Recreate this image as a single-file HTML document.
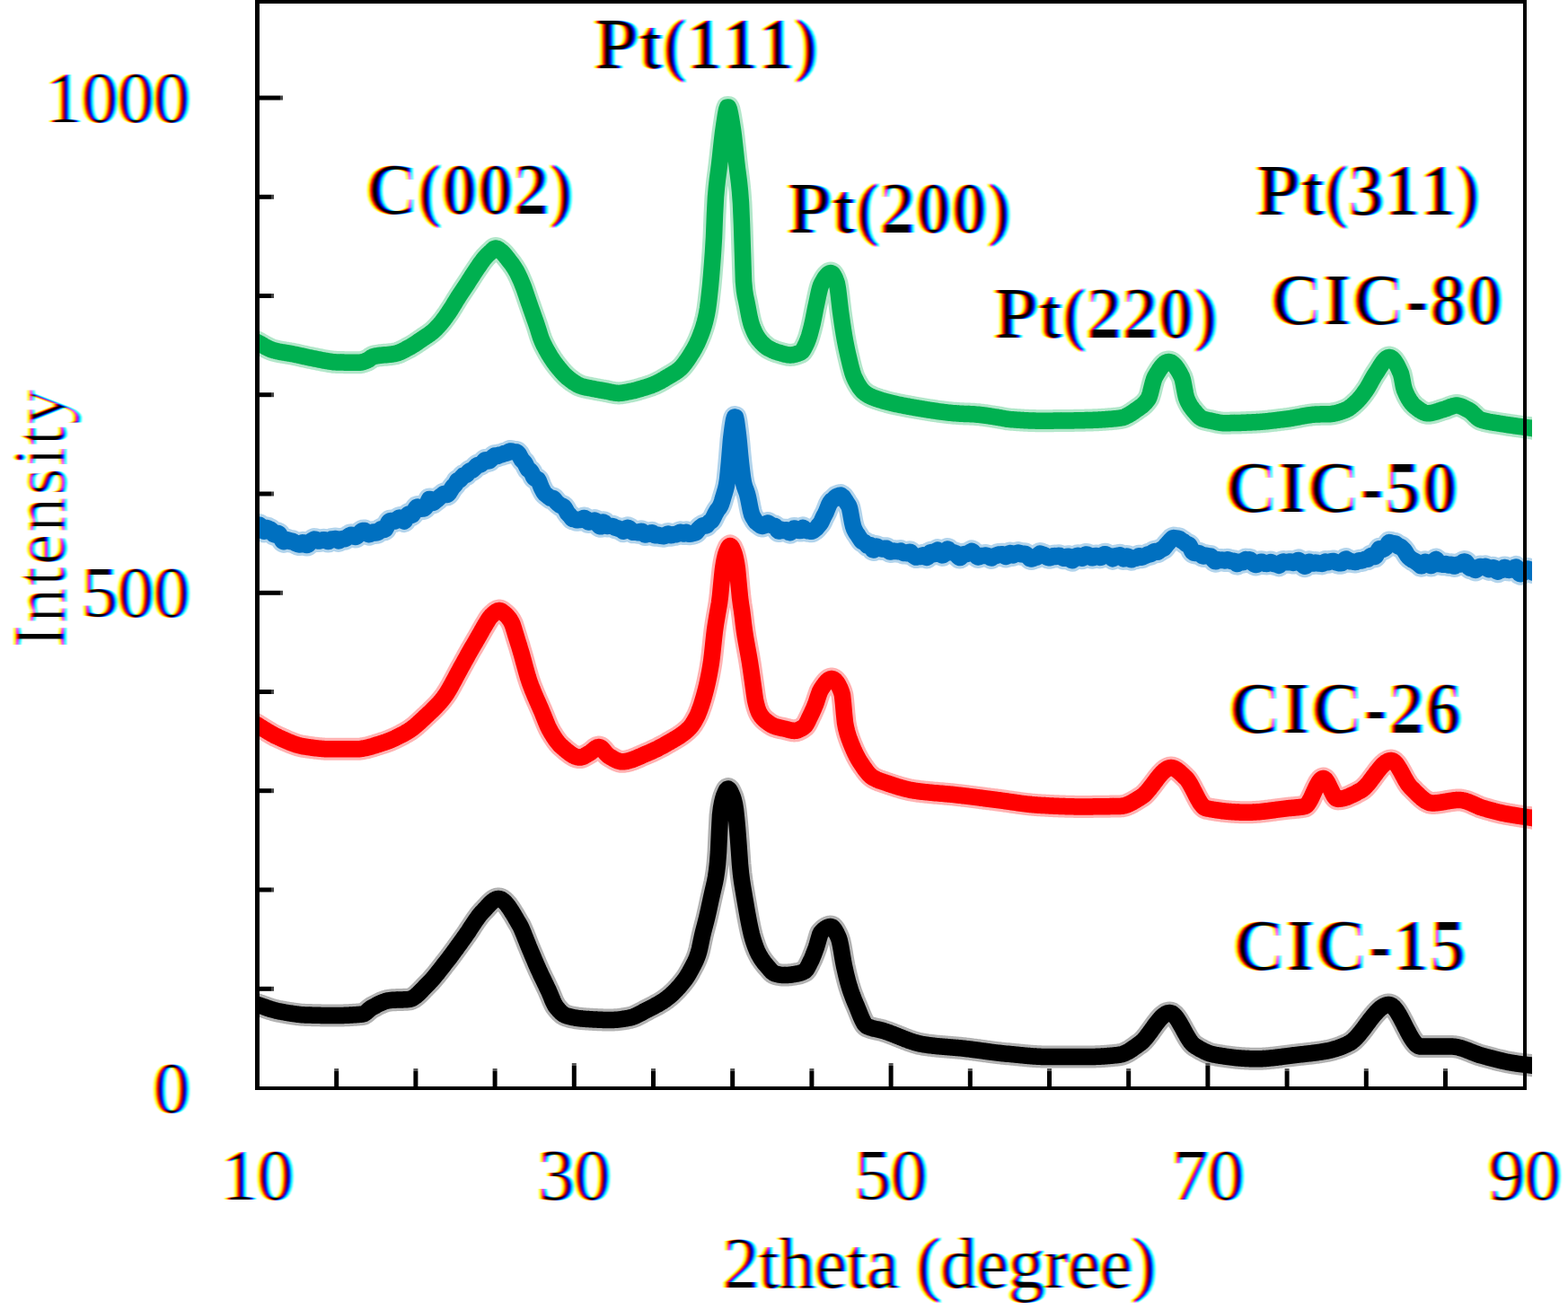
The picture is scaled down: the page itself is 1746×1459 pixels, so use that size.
<!DOCTYPE html>
<html><head><meta charset="utf-8"><title>XRD</title>
<style>
html,body{margin:0;padding:0;background:#fff;}
svg{display:block;}
text{mix-blend-mode:multiply;font-kerning:none;font-family:"Liberation Serif","Times New Roman",serif;font-size:80px;fill:#000;}
.r{font-weight:normal;filter:url(#ctR);}
.b{font-weight:bold;filter:url(#ctB);}
.ctg{filter:url(#ctI);mix-blend-mode:multiply;}
text.r.nf{filter:none;mix-blend-mode:normal;}
</style></head>
<body>
<svg width="1746" height="1459" viewBox="0 0 1746 1459">
<defs>
<path id="c0" d="M279.0 378.0L280.0 378.4L281.0 378.8L282.0 379.2L283.0 379.6L284.0 380.0L285.0 380.5L286.0 380.9L287.0 381.4L288.0 382.0L289.0 382.5L290.0 383.1L291.0 383.6L292.0 384.2L293.0 384.8L294.0 385.4L295.0 385.9L296.0 386.5L297.0 387.0L298.0 387.5L299.0 388.0L300.0 388.5L301.0 388.9L302.0 389.3L303.0 389.7L304.0 390.0L305.0 390.3L306.0 390.5L307.0 390.8L308.0 391.0L309.0 391.3L310.0 391.5L311.0 391.7L312.0 391.9L313.0 392.1L314.0 392.2L315.0 392.4L316.0 392.6L317.0 392.8L318.0 392.9L319.0 393.1L320.0 393.3L321.0 393.4L322.0 393.6L323.0 393.8L324.0 393.9L325.0 394.1L326.0 394.3L327.0 394.5L328.0 394.7L329.0 394.9L330.0 395.1L331.0 395.3L332.0 395.5L333.0 395.8L334.0 396.0L335.0 396.2L336.0 396.4L337.0 396.7L338.0 396.9L339.0 397.1L340.0 397.3L341.0 397.5L342.0 397.8L343.0 398.0L344.0 398.2L345.0 398.4L346.0 398.6L347.0 398.8L348.0 399.0L349.0 399.2L350.0 399.4L351.0 399.6L352.0 399.8L353.0 400.0L354.0 400.2L355.0 400.4L356.0 400.6L357.0 400.8L358.0 401.0L359.0 401.2L360.0 401.4L361.0 401.6L362.0 401.7L363.0 401.9L364.0 402.1L365.0 402.3L366.0 402.5L367.0 402.6L368.0 402.8L369.0 402.9L370.0 403.0L371.0 403.2L372.0 403.3L373.0 403.3L374.0 403.4L375.0 403.5L376.0 403.5L377.0 403.5L378.0 403.5L379.0 403.6L380.0 403.6L381.0 403.6L382.0 403.6L383.0 403.6L384.0 403.7L385.0 403.7L386.0 403.7L387.0 403.7L388.0 403.7L389.0 403.7L390.0 403.7L391.0 403.8L392.0 403.8L393.0 403.8L394.0 403.8L395.0 403.8L396.0 403.8L397.0 403.8L398.0 403.8L399.0 403.8L400.0 403.8L401.0 403.8L402.0 403.6L403.0 403.4L404.0 403.1L405.0 402.8L406.0 402.5L407.0 402.1L408.0 401.7L409.0 401.3L410.0 400.8L411.0 400.1L412.0 399.4L413.0 398.6L414.0 397.9L415.0 397.4L416.0 397.0L417.0 396.8L418.0 396.6L419.0 396.4L420.0 396.2L421.0 396.1L422.0 395.9L423.0 395.8L424.0 395.7L425.0 395.6L426.0 395.5L427.0 395.4L428.0 395.3L429.0 395.3L430.0 395.2L431.0 395.1L432.0 395.0L433.0 394.9L434.0 394.8L435.0 394.7L436.0 394.6L437.0 394.4L438.0 394.3L439.0 394.1L440.0 393.9L441.0 393.7L442.0 393.4L443.0 393.1L444.0 392.7L445.0 392.3L446.0 391.9L447.0 391.4L448.0 390.9L449.0 390.4L450.0 389.9L451.0 389.4L452.0 388.9L453.0 388.3L454.0 387.8L455.0 387.2L456.0 386.7L457.0 386.2L458.0 385.6L459.0 385.0L460.0 384.4L461.0 383.8L462.0 383.1L463.0 382.5L464.0 381.8L465.0 381.1L466.0 380.4L467.0 379.7L468.0 379.0L469.0 378.4L470.0 377.7L471.0 377.0L472.0 376.3L473.0 375.6L474.0 375.0L475.0 374.3L476.0 373.7L477.0 373.0L478.0 372.3L479.0 371.6L480.0 370.8L481.0 370.0L482.0 369.2L483.0 368.3L484.0 367.3L485.0 366.4L486.0 365.4L487.0 364.3L488.0 363.2L489.0 362.1L490.0 361.0L491.0 359.8L492.0 358.6L493.0 357.3L494.0 356.0L495.0 354.6L496.0 353.3L497.0 351.8L498.0 350.4L499.0 349.0L500.0 347.5L501.0 346.0L502.0 344.5L503.0 342.9L504.0 341.3L505.0 339.6L506.0 338.0L507.0 336.3L508.0 334.7L509.0 333.1L510.0 331.5L511.0 329.9L512.0 328.4L513.0 326.9L514.0 325.3L515.0 323.8L516.0 322.3L517.0 320.8L518.0 319.3L519.0 317.8L520.0 316.3L521.0 314.8L522.0 313.2L523.0 311.7L524.0 310.1L525.0 308.5L526.0 307.0L527.0 305.4L528.0 303.9L529.0 302.4L530.0 300.9L531.0 299.4L532.0 297.9L533.0 296.5L534.0 295.0L535.0 293.5L536.0 292.1L537.0 290.8L538.0 289.4L539.0 288.2L540.0 287.0L541.0 285.9L542.0 284.8L543.0 283.8L544.0 282.8L545.0 281.9L546.0 281.0L547.0 280.1L548.0 279.1L549.0 278.1L550.0 277.3L551.0 276.7L552.0 276.5L553.0 276.7L554.0 277.1L555.0 277.7L556.0 278.4L557.0 279.2L558.0 280.0L559.0 280.8L560.0 281.8L561.0 282.8L562.0 284.0L563.0 285.2L564.0 286.5L565.0 287.7L566.0 289.0L567.0 290.3L568.0 291.6L569.0 292.9L570.0 294.2L571.0 295.7L572.0 297.1L573.0 298.7L574.0 300.3L575.0 302.0L576.0 303.8L577.0 305.8L578.0 307.9L579.0 310.1L580.0 312.4L581.0 314.8L582.0 317.3L583.0 319.8L584.0 322.5L585.0 325.4L586.0 328.4L587.0 331.4L588.0 334.3L589.0 337.2L590.0 340.0L591.0 342.9L592.0 345.8L593.0 348.6L594.0 351.5L595.0 354.3L596.0 357.1L597.0 360.0L598.0 362.9L599.0 366.0L600.0 369.3L601.0 372.5L602.0 375.6L603.0 378.2L604.0 380.6L605.0 382.8L606.0 384.9L607.0 386.8L608.0 388.7L609.0 390.5L610.0 392.3L611.0 394.0L612.0 395.7L613.0 397.3L614.0 398.8L615.0 400.4L616.0 401.8L617.0 403.3L618.0 404.6L619.0 406.0L620.0 407.3L621.0 408.5L622.0 409.8L623.0 411.0L624.0 412.2L625.0 413.3L626.0 414.5L627.0 415.6L628.0 416.7L629.0 417.7L630.0 418.7L631.0 419.6L632.0 420.5L633.0 421.3L634.0 422.1L635.0 422.9L636.0 423.6L637.0 424.4L638.0 425.1L639.0 425.8L640.0 426.4L641.0 427.0L642.0 427.6L643.0 428.2L644.0 428.7L645.0 429.2L646.0 429.6L647.0 430.0L648.0 430.3L649.0 430.6L650.0 430.9L651.0 431.1L652.0 431.3L653.0 431.6L654.0 431.8L655.0 432.0L656.0 432.1L657.0 432.3L658.0 432.5L659.0 432.7L660.0 432.9L661.0 433.1L662.0 433.3L663.0 433.5L664.0 433.7L665.0 433.9L666.0 434.0L667.0 434.2L668.0 434.4L669.0 434.6L670.0 434.8L671.0 434.9L672.0 435.1L673.0 435.3L674.0 435.5L675.0 435.6L676.0 435.8L677.0 436.0L678.0 436.2L679.0 436.5L680.0 436.7L681.0 436.9L682.0 437.1L683.0 437.3L684.0 437.5L685.0 437.6L686.0 437.8L687.0 437.8L688.0 437.9L689.0 437.9L690.0 437.9L691.0 437.8L692.0 437.7L693.0 437.6L694.0 437.4L695.0 437.3L696.0 437.1L697.0 436.9L698.0 436.7L699.0 436.5L700.0 436.3L701.0 436.1L702.0 435.9L703.0 435.7L704.0 435.5L705.0 435.3L706.0 435.1L707.0 434.8L708.0 434.5L709.0 434.3L710.0 434.0L711.0 433.7L712.0 433.4L713.0 433.1L714.0 432.8L715.0 432.5L716.0 432.2L717.0 431.9L718.0 431.6L719.0 431.3L720.0 431.0L721.0 430.6L722.0 430.3L723.0 430.0L724.0 429.6L725.0 429.3L726.0 428.9L727.0 428.5L728.0 428.1L729.0 427.7L730.0 427.3L731.0 426.8L732.0 426.3L733.0 425.8L734.0 425.3L735.0 424.8L736.0 424.2L737.0 423.6L738.0 423.0L739.0 422.5L740.0 421.9L741.0 421.2L742.0 420.6L743.0 420.0L744.0 419.4L745.0 418.9L746.0 418.3L747.0 417.7L748.0 417.1L749.0 416.5L750.0 415.9L751.0 415.3L752.0 414.7L753.0 414.0L754.0 413.3L755.0 412.5L756.0 411.7L757.0 410.9L758.0 410.0L759.0 409.0L760.0 407.8L761.0 406.7L762.0 405.4L763.0 404.1L764.0 402.7L765.0 401.3L766.0 399.8L767.0 398.3L768.0 396.8L769.0 395.2L770.0 393.6L771.0 392.0L772.0 390.3L773.0 388.6L774.0 386.7L775.0 384.8L776.0 382.8L777.0 380.6L778.0 378.4L779.0 376.0L780.0 373.5L781.0 370.9L782.0 368.1L783.0 365.1L784.0 361.8L785.0 358.2L786.0 354.1L787.0 349.5L788.0 343.8L789.0 336.4L790.0 327.6L791.0 318.2L792.0 307.1L793.0 294.5L794.0 280.8L795.0 264.4L796.0 238.7L797.0 219.2L798.0 208.0L799.0 199.3L800.0 191.8L801.0 183.9L802.0 174.9L803.0 165.6L804.0 156.4L805.0 148.1L806.0 141.0L807.0 134.5L808.0 128.0L809.0 122.6L810.0 119.4L811.0 119.4L812.0 121.9L813.0 126.4L814.0 132.0L815.0 138.0L816.0 144.2L817.0 151.8L818.0 160.7L819.0 170.1L820.0 179.5L821.0 188.0L822.0 195.5L823.0 203.4L824.0 213.2L825.0 226.5L826.0 250.1L827.0 281.5L828.0 313.4L829.0 323.8L830.0 330.0L831.0 334.5L832.0 339.4L833.0 344.8L834.0 350.0L835.0 354.8L836.0 358.9L837.0 362.2L838.0 364.9L839.0 367.4L840.0 369.6L841.0 371.7L842.0 373.5L843.0 375.2L844.0 376.7L845.0 378.0L846.0 379.2L847.0 380.4L848.0 381.5L849.0 382.5L850.0 383.5L851.0 384.4L852.0 385.3L853.0 386.1L854.0 386.8L855.0 387.5L856.0 388.1L857.0 388.6L858.0 389.1L859.0 389.6L860.0 390.1L861.0 390.5L862.0 390.9L863.0 391.3L864.0 391.7L865.0 392.0L866.0 392.3L867.0 392.6L868.0 392.9L869.0 393.2L870.0 393.5L871.0 393.8L872.0 394.0L873.0 394.3L874.0 394.6L875.0 394.8L876.0 395.0L877.0 395.2L878.0 395.3L879.0 395.4L880.0 395.4L881.0 395.4L882.0 395.3L883.0 395.2L884.0 395.0L885.0 394.8L886.0 394.5L887.0 394.2L888.0 393.9L889.0 393.5L890.0 393.1L891.0 392.7L892.0 392.2L893.0 391.3L894.0 390.0L895.0 388.4L896.0 386.5L897.0 384.5L898.0 382.3L899.0 380.0L900.0 377.4L901.0 374.4L902.0 370.9L903.0 367.2L904.0 363.2L905.0 359.0L906.0 354.1L907.0 348.9L908.0 343.8L909.0 339.1L910.0 334.4L911.0 329.5L912.0 325.0L913.0 321.0L914.0 317.9L915.0 315.8L916.0 314.0L917.0 312.2L918.0 310.5L919.0 309.0L920.0 307.6L921.0 306.5L922.0 305.5L923.0 304.7L924.0 304.2L925.0 304.0L926.0 304.2L927.0 305.0L928.0 306.3L929.0 308.2L930.0 310.4L931.0 313.0L932.0 316.0L933.0 321.7L934.0 329.6L935.0 338.5L936.0 346.9L937.0 354.1L938.0 361.1L939.0 367.7L940.0 373.8L941.0 379.3L942.0 384.5L943.0 389.3L944.0 393.9L945.0 398.2L946.0 402.4L947.0 406.6L948.0 410.5L949.0 414.1L950.0 417.2L951.0 419.8L952.0 422.0L953.0 424.0L954.0 425.9L955.0 427.7L956.0 429.4L957.0 431.0L958.0 432.4L959.0 433.7L960.0 434.9L961.0 435.9L962.0 436.8L963.0 437.6L964.0 438.3L965.0 439.0L966.0 439.6L967.0 440.2L968.0 440.8L969.0 441.3L970.0 441.7L971.0 442.2L972.0 442.6L973.0 443.0L974.0 443.4L975.0 443.7L976.0 444.1L977.0 444.4L978.0 444.7L979.0 445.1L980.0 445.4L981.0 445.7L982.0 446.0L983.0 446.3L984.0 446.6L985.0 446.8L986.0 447.1L987.0 447.4L988.0 447.7L989.0 447.9L990.0 448.2L991.0 448.4L992.0 448.7L993.0 448.9L994.0 449.2L995.0 449.4L996.0 449.6L997.0 449.9L998.0 450.1L999.0 450.3L1000.0 450.5L1001.0 450.7L1002.0 450.9L1003.0 451.1L1004.0 451.3L1005.0 451.5L1006.0 451.7L1007.0 451.9L1008.0 452.1L1009.0 452.3L1010.0 452.5L1011.0 452.7L1012.0 452.8L1013.0 453.0L1014.0 453.2L1015.0 453.4L1016.0 453.5L1017.0 453.7L1018.0 453.9L1019.0 454.1L1020.0 454.2L1021.0 454.4L1022.0 454.6L1023.0 454.7L1024.0 454.9L1025.0 455.1L1026.0 455.2L1027.0 455.4L1028.0 455.6L1029.0 455.7L1030.0 455.9L1031.0 456.1L1032.0 456.2L1033.0 456.4L1034.0 456.6L1035.0 456.7L1036.0 456.9L1037.0 457.0L1038.0 457.2L1039.0 457.3L1040.0 457.5L1041.0 457.6L1042.0 457.8L1043.0 457.9L1044.0 458.1L1045.0 458.2L1046.0 458.4L1047.0 458.5L1048.0 458.6L1049.0 458.8L1050.0 458.9L1051.0 459.0L1052.0 459.1L1053.0 459.3L1054.0 459.4L1055.0 459.5L1056.0 459.6L1057.0 459.7L1058.0 459.8L1059.0 459.9L1060.0 460.0L1061.0 460.1L1062.0 460.2L1063.0 460.3L1064.0 460.3L1065.0 460.4L1066.0 460.5L1067.0 460.6L1068.0 460.6L1069.0 460.7L1070.0 460.7L1071.0 460.8L1072.0 460.8L1073.0 460.9L1074.0 460.9L1075.0 461.0L1076.0 461.0L1077.0 461.0L1078.0 461.1L1079.0 461.1L1080.0 461.1L1081.0 461.2L1082.0 461.2L1083.0 461.3L1084.0 461.3L1085.0 461.4L1086.0 461.5L1087.0 461.6L1088.0 461.7L1089.0 461.7L1090.0 461.8L1091.0 461.9L1092.0 462.1L1093.0 462.2L1094.0 462.3L1095.0 462.4L1096.0 462.6L1097.0 462.7L1098.0 462.8L1099.0 463.0L1100.0 463.1L1101.0 463.3L1102.0 463.4L1103.0 463.6L1104.0 463.7L1105.0 463.9L1106.0 464.0L1107.0 464.2L1108.0 464.4L1109.0 464.5L1110.0 464.7L1111.0 464.8L1112.0 465.0L1113.0 465.2L1114.0 465.3L1115.0 465.5L1116.0 465.7L1117.0 465.9L1118.0 466.1L1119.0 466.3L1120.0 466.5L1121.0 466.7L1122.0 466.8L1123.0 466.9L1124.0 467.0L1125.0 467.1L1126.0 467.2L1127.0 467.2L1128.0 467.3L1129.0 467.4L1130.0 467.5L1131.0 467.5L1132.0 467.6L1133.0 467.7L1134.0 467.8L1135.0 467.8L1136.0 467.9L1137.0 468.0L1138.0 468.0L1139.0 468.1L1140.0 468.1L1141.0 468.2L1142.0 468.2L1143.0 468.3L1144.0 468.3L1145.0 468.4L1146.0 468.4L1147.0 468.5L1148.0 468.5L1149.0 468.5L1150.0 468.6L1151.0 468.6L1152.0 468.6L1153.0 468.6L1154.0 468.7L1155.0 468.7L1156.0 468.7L1157.0 468.7L1158.0 468.7L1159.0 468.7L1160.0 468.7L1161.0 468.7L1162.0 468.7L1163.0 468.7L1164.0 468.7L1165.0 468.7L1166.0 468.7L1167.0 468.7L1168.0 468.7L1169.0 468.7L1170.0 468.7L1171.0 468.7L1172.0 468.7L1173.0 468.6L1174.0 468.6L1175.0 468.6L1176.0 468.6L1177.0 468.6L1178.0 468.6L1179.0 468.6L1180.0 468.6L1181.0 468.6L1182.0 468.6L1183.0 468.5L1184.0 468.5L1185.0 468.5L1186.0 468.5L1187.0 468.5L1188.0 468.5L1189.0 468.5L1190.0 468.5L1191.0 468.4L1192.0 468.4L1193.0 468.4L1194.0 468.4L1195.0 468.4L1196.0 468.4L1197.0 468.3L1198.0 468.3L1199.0 468.3L1200.0 468.3L1201.0 468.3L1202.0 468.3L1203.0 468.2L1204.0 468.2L1205.0 468.2L1206.0 468.2L1207.0 468.2L1208.0 468.1L1209.0 468.1L1210.0 468.1L1211.0 468.1L1212.0 468.0L1213.0 468.0L1214.0 468.0L1215.0 467.9L1216.0 467.9L1217.0 467.9L1218.0 467.8L1219.0 467.8L1220.0 467.8L1221.0 467.7L1222.0 467.7L1223.0 467.6L1224.0 467.6L1225.0 467.5L1226.0 467.5L1227.0 467.4L1228.0 467.3L1229.0 467.3L1230.0 467.2L1231.0 467.1L1232.0 467.1L1233.0 467.0L1234.0 466.9L1235.0 466.8L1236.0 466.8L1237.0 466.7L1238.0 466.6L1239.0 466.5L1240.0 466.4L1241.0 466.3L1242.0 466.2L1243.0 466.1L1244.0 466.0L1245.0 465.9L1246.0 465.7L1247.0 465.6L1248.0 465.5L1249.0 465.3L1250.0 465.1L1251.0 464.8L1252.0 464.5L1253.0 464.1L1254.0 463.6L1255.0 463.1L1256.0 462.6L1257.0 462.0L1258.0 461.4L1259.0 460.8L1260.0 460.1L1261.0 459.5L1262.0 458.8L1263.0 458.1L1264.0 457.4L1265.0 456.7L1266.0 456.0L1267.0 455.3L1268.0 454.6L1269.0 453.9L1270.0 453.2L1271.0 452.5L1272.0 451.7L1273.0 450.8L1274.0 449.8L1275.0 448.8L1276.0 447.7L1277.0 446.4L1278.0 445.0L1279.0 443.5L1280.0 441.0L1281.0 437.6L1282.0 433.6L1283.0 429.5L1284.0 425.7L1285.0 422.4L1286.0 420.0L1287.0 418.3L1288.0 416.5L1289.0 414.9L1290.0 413.3L1291.0 411.7L1292.0 410.3L1293.0 408.9L1294.0 407.7L1295.0 406.6L1296.0 405.6L1297.0 404.7L1298.0 404.0L1299.0 403.5L1300.0 403.2L1301.0 403.0L1302.0 403.0L1303.0 403.3L1304.0 403.7L1305.0 404.3L1306.0 405.0L1307.0 406.0L1308.0 407.0L1309.0 408.2L1310.0 409.6L1311.0 411.0L1312.0 412.6L1313.0 414.3L1314.0 416.1L1315.0 418.0L1316.0 420.0L1317.0 423.1L1318.0 427.9L1319.0 433.4L1320.0 438.6L1321.0 442.8L1322.0 445.4L1323.0 447.6L1324.0 449.5L1325.0 451.3L1326.0 452.8L1327.0 454.2L1328.0 455.6L1329.0 456.8L1330.0 458.0L1331.0 459.2L1332.0 460.4L1333.0 461.5L1334.0 462.6L1335.0 463.6L1336.0 464.5L1337.0 465.3L1338.0 465.9L1339.0 466.3L1340.0 466.7L1341.0 467.0L1342.0 467.3L1343.0 467.5L1344.0 467.8L1345.0 468.0L1346.0 468.2L1347.0 468.4L1348.0 468.6L1349.0 468.8L1350.0 469.0L1351.0 469.3L1352.0 469.5L1353.0 469.7L1354.0 469.9L1355.0 470.2L1356.0 470.4L1357.0 470.5L1358.0 470.7L1359.0 470.9L1360.0 471.0L1361.0 471.1L1362.0 471.2L1363.0 471.2L1364.0 471.2L1365.0 471.2L1366.0 471.2L1367.0 471.2L1368.0 471.2L1369.0 471.2L1370.0 471.1L1371.0 471.1L1372.0 471.1L1373.0 471.1L1374.0 471.1L1375.0 471.1L1376.0 471.0L1377.0 471.0L1378.0 471.0L1379.0 470.9L1380.0 470.9L1381.0 470.9L1382.0 470.9L1383.0 470.8L1384.0 470.8L1385.0 470.7L1386.0 470.7L1387.0 470.7L1388.0 470.6L1389.0 470.6L1390.0 470.6L1391.0 470.5L1392.0 470.5L1393.0 470.4L1394.0 470.4L1395.0 470.3L1396.0 470.3L1397.0 470.3L1398.0 470.2L1399.0 470.1L1400.0 470.1L1401.0 470.0L1402.0 470.0L1403.0 469.9L1404.0 469.8L1405.0 469.7L1406.0 469.6L1407.0 469.5L1408.0 469.5L1409.0 469.4L1410.0 469.3L1411.0 469.2L1412.0 469.1L1413.0 469.0L1414.0 468.8L1415.0 468.7L1416.0 468.6L1417.0 468.5L1418.0 468.4L1419.0 468.3L1420.0 468.2L1421.0 468.0L1422.0 467.9L1423.0 467.8L1424.0 467.7L1425.0 467.5L1426.0 467.4L1427.0 467.3L1428.0 467.2L1429.0 467.1L1430.0 466.9L1431.0 466.8L1432.0 466.7L1433.0 466.6L1434.0 466.4L1435.0 466.3L1436.0 466.2L1437.0 466.0L1438.0 465.8L1439.0 465.7L1440.0 465.5L1441.0 465.3L1442.0 465.1L1443.0 464.9L1444.0 464.8L1445.0 464.6L1446.0 464.4L1447.0 464.2L1448.0 464.0L1449.0 463.8L1450.0 463.6L1451.0 463.4L1452.0 463.3L1453.0 463.1L1454.0 462.9L1455.0 462.8L1456.0 462.6L1457.0 462.4L1458.0 462.3L1459.0 462.2L1460.0 462.0L1461.0 461.9L1462.0 461.8L1463.0 461.7L1464.0 461.6L1465.0 461.5L1466.0 461.5L1467.0 461.4L1468.0 461.4L1469.0 461.4L1470.0 461.4L1471.0 461.3L1472.0 461.3L1473.0 461.3L1474.0 461.3L1475.0 461.3L1476.0 461.3L1477.0 461.3L1478.0 461.2L1479.0 461.2L1480.0 461.2L1481.0 461.2L1482.0 461.1L1483.0 461.0L1484.0 460.8L1485.0 460.7L1486.0 460.5L1487.0 460.3L1488.0 460.0L1489.0 459.8L1490.0 459.5L1491.0 459.2L1492.0 458.9L1493.0 458.5L1494.0 458.2L1495.0 457.8L1496.0 457.5L1497.0 457.1L1498.0 456.7L1499.0 456.3L1500.0 455.8L1501.0 455.3L1502.0 454.6L1503.0 453.9L1504.0 453.2L1505.0 452.4L1506.0 451.6L1507.0 450.7L1508.0 449.8L1509.0 448.9L1510.0 448.0L1511.0 447.0L1512.0 446.0L1513.0 444.9L1514.0 443.8L1515.0 442.6L1516.0 441.4L1517.0 440.1L1518.0 438.8L1519.0 437.4L1520.0 436.0L1521.0 434.6L1522.0 433.2L1523.0 431.6L1524.0 429.8L1525.0 428.0L1526.0 426.2L1527.0 424.3L1528.0 422.5L1529.0 420.7L1530.0 418.9L1531.0 417.3L1532.0 415.8L1533.0 414.3L1534.0 412.8L1535.0 411.2L1536.0 409.6L1537.0 408.0L1538.0 406.5L1539.0 405.0L1540.0 403.5L1541.0 402.2L1542.0 401.0L1543.0 400.0L1544.0 399.2L1545.0 398.5L1546.0 398.1L1547.0 398.0L1548.0 398.1L1549.0 398.6L1550.0 399.2L1551.0 400.1L1552.0 401.2L1553.0 402.6L1554.0 404.1L1555.0 405.8L1556.0 407.6L1557.0 409.6L1558.0 411.7L1559.0 414.0L1560.0 416.3L1561.0 420.4L1562.0 425.7L1563.0 430.9L1564.0 434.4L1565.0 436.8L1566.0 439.1L1567.0 441.1L1568.0 443.0L1569.0 444.7L1570.0 446.3L1571.0 447.7L1572.0 449.0L1573.0 450.2L1574.0 451.2L1575.0 452.2L1576.0 453.0L1577.0 453.8L1578.0 454.6L1579.0 455.3L1580.0 456.1L1581.0 456.8L1582.0 457.4L1583.0 458.0L1584.0 458.6L1585.0 459.1L1586.0 459.5L1587.0 459.8L1588.0 460.1L1589.0 460.2L1590.0 460.3L1591.0 460.3L1592.0 460.2L1593.0 460.1L1594.0 459.9L1595.0 459.7L1596.0 459.5L1597.0 459.2L1598.0 459.0L1599.0 458.7L1600.0 458.4L1601.0 458.0L1602.0 457.7L1603.0 457.4L1604.0 457.0L1605.0 456.7L1606.0 456.4L1607.0 456.1L1608.0 455.8L1609.0 455.5L1610.0 455.2L1611.0 454.8L1612.0 454.4L1613.0 454.0L1614.0 453.6L1615.0 453.2L1616.0 452.9L1617.0 452.5L1618.0 452.2L1619.0 452.0L1620.0 451.8L1621.0 451.6L1622.0 451.6L1623.0 451.6L1624.0 451.8L1625.0 452.0L1626.0 452.3L1627.0 452.6L1628.0 453.0L1629.0 453.4L1630.0 453.9L1631.0 454.4L1632.0 454.9L1633.0 455.5L1634.0 456.0L1635.0 456.6L1636.0 457.1L1637.0 457.7L1638.0 458.5L1639.0 459.3L1640.0 460.3L1641.0 461.2L1642.0 462.2L1643.0 463.2L1644.0 464.1L1645.0 465.0L1646.0 465.8L1647.0 466.5L1648.0 467.1L1649.0 467.5L1650.0 467.8L1651.0 468.1L1652.0 468.4L1653.0 468.7L1654.0 468.9L1655.0 469.1L1656.0 469.4L1657.0 469.6L1658.0 469.8L1659.0 470.0L1660.0 470.2L1661.0 470.3L1662.0 470.5L1663.0 470.7L1664.0 470.8L1665.0 471.0L1666.0 471.1L1667.0 471.3L1668.0 471.4L1669.0 471.6L1670.0 471.7L1671.0 471.9L1672.0 472.1L1673.0 472.2L1674.0 472.4L1675.0 472.5L1676.0 472.7L1677.0 472.9L1678.0 473.0L1679.0 473.2L1680.0 473.3L1681.0 473.5L1682.0 473.6L1683.0 473.8L1684.0 473.9L1685.0 474.0L1686.0 474.2L1687.0 474.3L1688.0 474.5L1689.0 474.6L1690.0 474.7L1691.0 474.9L1692.0 475.0L1693.0 475.1L1694.0 475.3L1695.0 475.4L1696.0 475.5L1697.0 475.7L1698.0 475.8L1699.0 476.0L1700.0 476.1L1701.0 476.2L1702.0 476.4L1703.0 476.5L1704.0 476.7L1705.0 476.8L1706.0 477.0L1707.0 477.2L1708.0 477.3L1709.0 477.5L1710.0 477.7L1711.0 477.8L1712.0 478.0"/>
<path id="c1" d="M279.0 581.4L280.0 581.5L281.0 581.8L282.0 582.4L283.0 583.1L284.0 583.7L285.0 584.1L286.0 584.4L287.0 584.6L288.0 584.7L289.0 584.8L290.0 585.5L291.0 587.2L292.0 589.4L293.0 591.2L294.0 591.7L295.0 590.8L296.0 589.1L297.0 588.0L298.0 588.1L299.0 588.9L300.0 589.3L301.0 589.6L302.0 590.5L303.0 592.2L304.0 594.1L305.0 595.3L306.0 595.5L307.0 594.8L308.0 594.1L309.0 593.8L310.0 594.1L311.0 595.1L312.0 596.9L313.0 599.2L314.0 601.3L315.0 602.8L316.0 603.3L317.0 602.8L318.0 601.7L319.0 601.0L320.0 601.2L321.0 601.9L322.0 602.7L323.0 602.9L324.0 602.7L325.0 602.5L326.0 602.8L327.0 603.6L328.0 604.4L329.0 604.9L330.0 605.3L331.0 605.7L332.0 606.2L333.0 606.5L334.0 606.5L335.0 606.0L336.0 605.0L337.0 604.2L338.0 604.4L339.0 605.5L340.0 606.6L341.0 607.0L342.0 607.0L343.0 606.5L344.0 605.6L345.0 604.4L346.0 603.3L347.0 602.4L348.0 601.7L349.0 601.0L350.0 600.6L351.0 600.7L352.0 601.1L353.0 601.8L354.0 602.4L355.0 602.6L356.0 602.4L357.0 602.1L358.0 601.8L359.0 601.5L360.0 601.2L361.0 601.2L362.0 601.5L363.0 602.0L364.0 602.5L365.0 603.0L366.0 603.0L367.0 602.2L368.0 601.2L369.0 600.6L370.0 600.6L371.0 600.6L372.0 600.3L373.0 599.9L374.0 599.9L375.0 600.6L376.0 601.7L377.0 602.4L378.0 602.1L379.0 601.3L380.0 600.5L381.0 600.1L382.0 600.0L383.0 600.3L384.0 600.3L385.0 599.8L386.0 598.9L387.0 598.1L388.0 597.3L389.0 596.6L390.0 596.0L391.0 595.7L392.0 596.0L393.0 596.7L394.0 597.4L395.0 597.9L396.0 598.0L397.0 597.5L398.0 596.7L399.0 595.7L400.0 594.8L401.0 593.5L402.0 592.2L403.0 591.4L404.0 591.1L405.0 590.9L406.0 591.0L407.0 591.7L408.0 593.0L409.0 594.3L410.0 595.1L411.0 595.2L412.0 594.9L413.0 594.5L414.0 593.8L415.0 593.0L416.0 592.4L417.0 592.4L418.0 593.0L419.0 593.4L420.0 593.3L421.0 592.8L422.0 591.9L423.0 590.8L424.0 589.6L425.0 588.9L426.0 589.0L427.0 589.7L428.0 590.0L429.0 589.3L430.0 587.7L431.0 585.5L432.0 583.1L433.0 581.3L434.0 580.3L435.0 580.0L436.0 580.0L437.0 580.2L438.0 580.5L439.0 580.6L440.0 580.4L441.0 579.8L442.0 578.8L443.0 577.7L444.0 576.9L445.0 576.6L446.0 576.7L447.0 577.5L448.0 578.7L449.0 579.9L450.0 580.5L451.0 579.7L452.0 577.7L453.0 575.2L454.0 573.3L455.0 572.6L456.0 572.8L457.0 573.5L458.0 573.9L459.0 573.5L460.0 572.2L461.0 570.3L462.0 568.0L463.0 566.1L464.0 564.8L465.0 564.6L466.0 565.3L467.0 566.2L468.0 566.6L469.0 566.7L470.0 566.6L471.0 566.6L472.0 566.3L473.0 565.6L474.0 564.6L475.0 563.2L476.0 560.8L477.0 558.0L478.0 556.1L479.0 556.1L480.0 557.6L481.0 559.3L482.0 560.0L483.0 559.5L484.0 558.5L485.0 557.7L486.0 557.1L487.0 556.3L488.0 555.3L489.0 554.2L490.0 553.2L491.0 552.4L492.0 551.8L493.0 551.0L494.0 550.1L495.0 549.8L496.0 550.3L497.0 550.9L498.0 550.9L499.0 550.2L500.0 549.0L501.0 547.4L502.0 545.8L503.0 544.2L504.0 542.7L505.0 541.5L506.0 540.6L507.0 539.4L508.0 537.7L509.0 535.9L510.0 534.9L511.0 534.6L512.0 534.3L513.0 533.4L514.0 532.0L515.0 530.7L516.0 529.7L517.0 529.3L518.0 529.2L519.0 528.9L520.0 528.0L521.0 526.7L522.0 525.5L523.0 524.6L524.0 524.2L525.0 524.0L526.0 523.6L527.0 522.8L528.0 521.8L529.0 520.7L530.0 519.6L531.0 518.7L532.0 518.0L533.0 517.8L534.0 517.6L535.0 517.3L536.0 516.7L537.0 515.8L538.0 514.8L539.0 513.6L540.0 512.6L541.0 512.2L542.0 512.6L543.0 513.2L544.0 513.4L545.0 513.1L546.0 512.2L547.0 511.2L548.0 510.1L549.0 509.1L550.0 508.1L551.0 507.5L552.0 507.5L553.0 507.8L554.0 507.9L555.0 507.4L556.0 506.7L557.0 506.4L558.0 506.4L559.0 506.3L560.0 505.8L561.0 505.2L562.0 504.9L563.0 504.9L564.0 504.8L565.0 504.3L566.0 503.5L567.0 502.9L568.0 502.5L569.0 502.4L570.0 502.7L571.0 503.1L572.0 503.4L573.0 503.4L574.0 503.4L575.0 503.5L576.0 504.0L577.0 505.0L578.0 506.5L579.0 508.3L580.0 510.3L581.0 512.0L582.0 513.2L583.0 514.1L584.0 515.2L585.0 516.8L586.0 518.9L587.0 520.9L588.0 522.5L589.0 523.4L590.0 524.0L591.0 524.9L592.0 526.5L593.0 528.6L594.0 530.8L595.0 532.3L596.0 533.1L597.0 533.4L598.0 533.5L599.0 534.2L600.0 535.9L601.0 538.4L602.0 541.0L603.0 543.4L604.0 545.4L605.0 547.3L606.0 548.9L607.0 550.1L608.0 550.9L609.0 551.6L610.0 552.4L611.0 553.3L612.0 554.1L613.0 554.7L614.0 554.9L615.0 554.9L616.0 555.1L617.0 555.8L618.0 557.1L619.0 558.4L620.0 559.5L621.0 560.5L622.0 561.3L623.0 562.1L624.0 562.8L625.0 563.3L626.0 563.5L627.0 564.0L628.0 564.9L629.0 566.2L630.0 567.9L631.0 569.8L632.0 571.5L633.0 572.7L634.0 573.5L635.0 574.6L636.0 576.0L637.0 577.4L638.0 578.1L639.0 578.1L640.0 578.2L641.0 578.8L642.0 579.3L643.0 579.2L644.0 578.8L645.0 578.8L646.0 579.0L647.0 578.9L648.0 578.3L649.0 577.5L650.0 576.9L651.0 576.9L652.0 577.7L653.0 579.1L654.0 580.5L655.0 581.4L656.0 581.4L657.0 580.9L658.0 580.2L659.0 579.9L660.0 580.0L661.0 579.9L662.0 579.6L663.0 579.8L664.0 580.8L665.0 582.5L666.0 584.1L667.0 585.4L668.0 586.2L669.0 586.3L670.0 585.1L671.0 583.1L672.0 581.7L673.0 582.0L674.0 583.7L675.0 585.3L676.0 586.0L677.0 585.9L678.0 585.7L679.0 585.7L680.0 585.9L681.0 586.0L682.0 586.0L683.0 586.4L684.0 587.0L685.0 587.7L686.0 588.0L687.0 588.1L688.0 588.4L689.0 588.9L690.0 589.2L691.0 589.5L692.0 590.0L693.0 590.9L694.0 591.7L695.0 591.6L696.0 590.7L697.0 589.3L698.0 588.2L699.0 587.8L700.0 588.1L701.0 588.7L702.0 589.7L703.0 591.1L704.0 592.4L705.0 592.8L706.0 592.6L707.0 592.3L708.0 592.4L709.0 592.8L710.0 593.2L711.0 593.2L712.0 592.8L713.0 592.1L714.0 591.7L715.0 591.9L716.0 593.0L717.0 594.5L718.0 595.5L719.0 595.5L720.0 595.0L721.0 594.6L722.0 594.8L723.0 594.8L724.0 594.2L725.0 593.4L726.0 593.2L727.0 593.9L728.0 595.3L729.0 596.2L730.0 596.2L731.0 595.8L732.0 595.5L733.0 595.8L734.0 596.3L735.0 596.7L736.0 596.9L737.0 597.0L738.0 597.1L739.0 597.2L740.0 597.1L741.0 596.5L742.0 595.6L743.0 594.8L744.0 594.5L745.0 594.9L746.0 595.7L747.0 596.2L748.0 596.1L749.0 595.7L750.0 595.3L751.0 595.2L752.0 595.3L753.0 595.2L754.0 594.8L755.0 594.1L756.0 593.4L757.0 592.9L758.0 592.8L759.0 593.5L760.0 594.3L761.0 594.5L762.0 594.0L763.0 593.1L764.0 592.8L765.0 593.3L766.0 594.2L767.0 594.7L768.0 594.7L769.0 594.6L770.0 594.4L771.0 594.2L772.0 593.9L773.0 593.7L774.0 593.4L775.0 592.9L776.0 591.9L777.0 590.5L778.0 589.2L779.0 588.1L780.0 587.3L781.0 586.6L782.0 585.9L783.0 585.2L784.0 585.0L785.0 585.3L786.0 585.5L787.0 585.0L788.0 583.9L789.0 582.6L790.0 581.5L791.0 580.9L792.0 580.3L793.0 579.1L794.0 577.3L795.0 575.2L796.0 573.2L797.0 571.2L798.0 569.4L799.0 567.8L800.0 566.6L801.0 565.3L802.0 563.6L803.0 561.4L804.0 558.4L805.0 554.9L806.0 551.6L807.0 548.3L808.0 544.9L809.0 540.6L810.0 534.6L811.0 524.9L812.0 514.0L813.0 501.8L814.0 489.6L815.0 481.3L816.0 474.0L817.0 468.0L818.0 464.5L819.0 464.6L820.0 469.4L821.0 476.9L822.0 484.9L823.0 494.4L824.0 505.6L825.0 515.4L826.0 524.2L827.0 532.1L828.0 537.9L829.0 541.7L830.0 544.5L831.0 547.0L832.0 549.9L833.0 553.9L834.0 558.9L835.0 564.1L836.0 568.9L837.0 572.7L838.0 575.0L839.0 576.7L840.0 578.4L841.0 580.0L842.0 581.3L843.0 582.2L844.0 582.9L845.0 583.8L846.0 584.6L847.0 585.2L848.0 585.7L849.0 585.9L850.0 585.7L851.0 585.3L852.0 584.5L853.0 583.4L854.0 582.6L855.0 582.5L856.0 583.0L857.0 583.7L858.0 584.4L859.0 585.1L860.0 585.6L861.0 585.7L862.0 585.7L863.0 586.1L864.0 587.1L865.0 588.7L866.0 590.5L867.0 591.6L868.0 591.5L869.0 590.6L870.0 589.8L871.0 589.9L872.0 590.5L873.0 591.0L874.0 590.7L875.0 590.3L876.0 590.3L877.0 591.0L878.0 592.1L879.0 593.0L880.0 593.2L881.0 592.5L882.0 591.1L883.0 589.5L884.0 588.6L885.0 588.6L886.0 589.1L887.0 589.5L888.0 589.9L889.0 590.5L890.0 591.1L891.0 591.1L892.0 590.1L893.0 588.7L894.0 587.9L895.0 588.3L896.0 589.5L897.0 590.6L898.0 591.1L899.0 591.2L900.0 591.2L901.0 591.3L902.0 591.5L903.0 591.8L904.0 591.8L905.0 591.3L906.0 590.6L907.0 589.9L908.0 589.2L909.0 588.3L910.0 587.1L911.0 585.8L912.0 584.7L913.0 583.6L914.0 582.1L915.0 580.2L916.0 577.9L917.0 575.8L918.0 573.9L919.0 572.0L920.0 569.9L921.0 567.4L922.0 564.9L923.0 562.4L924.0 560.5L925.0 558.9L926.0 557.7L927.0 557.0L928.0 556.4L929.0 555.4L930.0 554.2L931.0 553.3L932.0 552.8L933.0 552.4L934.0 552.0L935.0 551.7L936.0 551.6L937.0 552.1L938.0 552.9L939.0 553.9L940.0 555.3L941.0 556.9L942.0 558.5L943.0 560.1L944.0 561.6L945.0 563.1L946.0 565.7L947.0 570.5L948.0 576.2L949.0 581.7L950.0 585.9L951.0 588.8L952.0 591.0L953.0 592.8L954.0 594.3L955.0 595.7L956.0 597.3L957.0 598.9L958.0 600.4L959.0 601.9L960.0 602.9L961.0 603.4L962.0 603.7L963.0 604.3L964.0 605.3L965.0 606.6L966.0 607.6L967.0 607.9L968.0 607.4L969.0 607.1L970.0 608.2L971.0 610.4L972.0 612.2L973.0 612.4L974.0 611.1L975.0 609.4L976.0 608.6L977.0 608.9L978.0 609.9L979.0 610.6L980.0 610.9L981.0 611.2L982.0 611.5L983.0 611.5L984.0 611.1L985.0 610.8L986.0 610.7L987.0 610.8L988.0 611.3L989.0 612.5L990.0 613.8L991.0 614.6L992.0 614.6L993.0 614.1L994.0 613.7L995.0 613.6L996.0 613.8L997.0 614.0L998.0 614.0L999.0 614.1L1000.0 614.2L1001.0 614.2L1002.0 613.8L1003.0 613.6L1004.0 614.2L1005.0 615.3L1006.0 616.0L1007.0 616.1L1008.0 616.0L1009.0 616.1L1010.0 616.2L1011.0 615.9L1012.0 615.1L1013.0 614.7L1014.0 615.1L1015.0 616.3L1016.0 617.6L1017.0 618.6L1018.0 619.3L1019.0 620.0L1020.0 620.6L1021.0 620.5L1022.0 620.2L1023.0 620.0L1024.0 620.1L1025.0 620.0L1026.0 619.5L1027.0 618.7L1028.0 618.3L1029.0 618.6L1030.0 619.5L1031.0 620.6L1032.0 621.0L1033.0 620.3L1034.0 618.7L1035.0 616.8L1036.0 615.4L1037.0 615.0L1038.0 615.6L1039.0 616.6L1040.0 617.1L1041.0 616.4L1042.0 614.8L1043.0 613.2L1044.0 612.7L1045.0 613.5L1046.0 615.1L1047.0 616.6L1048.0 617.8L1049.0 618.4L1050.0 618.3L1051.0 617.4L1052.0 616.0L1053.0 614.3L1054.0 612.6L1055.0 611.6L1056.0 611.8L1057.0 613.2L1058.0 614.6L1059.0 615.3L1060.0 615.2L1061.0 615.1L1062.0 615.4L1063.0 615.8L1064.0 616.2L1065.0 616.9L1066.0 618.2L1067.0 619.8L1068.0 620.9L1069.0 621.1L1070.0 620.4L1071.0 619.3L1072.0 618.2L1073.0 617.3L1074.0 617.0L1075.0 617.1L1076.0 617.1L1077.0 616.8L1078.0 616.3L1079.0 615.8L1080.0 615.1L1081.0 614.4L1082.0 613.9L1083.0 614.3L1084.0 615.4L1085.0 616.7L1086.0 617.8L1087.0 618.7L1088.0 619.8L1089.0 620.5L1090.0 620.3L1091.0 619.7L1092.0 619.1L1093.0 618.9L1094.0 619.0L1095.0 619.0L1096.0 618.8L1097.0 618.6L1098.0 618.6L1099.0 618.9L1100.0 619.2L1101.0 619.5L1102.0 620.3L1103.0 621.2L1104.0 621.5L1105.0 620.9L1106.0 620.0L1107.0 619.4L1108.0 619.2L1109.0 619.0L1110.0 618.4L1111.0 617.8L1112.0 617.5L1113.0 617.4L1114.0 617.4L1115.0 617.2L1116.0 617.3L1117.0 617.9L1118.0 618.7L1119.0 619.5L1120.0 620.0L1121.0 619.8L1122.0 618.8L1123.0 617.2L1124.0 616.1L1125.0 616.0L1126.0 616.9L1127.0 618.0L1128.0 618.4L1129.0 617.9L1130.0 617.0L1131.0 616.4L1132.0 616.1L1133.0 615.8L1134.0 615.6L1135.0 615.9L1136.0 616.6L1137.0 617.3L1138.0 617.4L1139.0 617.0L1140.0 616.7L1141.0 616.7L1142.0 617.1L1143.0 617.7L1144.0 618.7L1145.0 619.9L1146.0 621.1L1147.0 622.1L1148.0 622.5L1149.0 622.5L1150.0 622.1L1151.0 621.7L1152.0 621.3L1153.0 621.0L1154.0 620.8L1155.0 620.2L1156.0 618.9L1157.0 617.4L1158.0 616.6L1159.0 616.8L1160.0 617.4L1161.0 617.7L1162.0 617.9L1163.0 618.3L1164.0 619.1L1165.0 619.9L1166.0 620.5L1167.0 621.0L1168.0 621.2L1169.0 621.2L1170.0 621.0L1171.0 620.5L1172.0 619.7L1173.0 619.2L1174.0 619.1L1175.0 619.6L1176.0 620.0L1177.0 619.7L1178.0 619.1L1179.0 618.7L1180.0 618.9L1181.0 619.4L1182.0 620.1L1183.0 621.0L1184.0 621.7L1185.0 621.8L1186.0 621.3L1187.0 620.6L1188.0 620.0L1189.0 619.7L1190.0 619.8L1191.0 620.7L1192.0 622.3L1193.0 623.8L1194.0 624.2L1195.0 623.6L1196.0 622.5L1197.0 621.3L1198.0 620.0L1199.0 619.1L1200.0 618.8L1201.0 619.3L1202.0 620.2L1203.0 621.0L1204.0 621.5L1205.0 621.7L1206.0 621.2L1207.0 620.1L1208.0 618.6L1209.0 617.5L1210.0 617.4L1211.0 617.8L1212.0 618.3L1213.0 618.8L1214.0 619.6L1215.0 620.6L1216.0 621.3L1217.0 621.3L1218.0 620.5L1219.0 619.6L1220.0 619.0L1221.0 619.0L1222.0 619.4L1223.0 619.9L1224.0 620.5L1225.0 620.9L1226.0 620.8L1227.0 619.9L1228.0 618.8L1229.0 617.8L1230.0 617.2L1231.0 617.2L1232.0 617.7L1233.0 618.7L1234.0 619.3L1235.0 619.2L1236.0 619.2L1237.0 620.0L1238.0 621.5L1239.0 622.3L1240.0 621.8L1241.0 620.3L1242.0 619.2L1243.0 619.0L1244.0 619.3L1245.0 619.2L1246.0 618.7L1247.0 618.3L1248.0 618.8L1249.0 620.1L1250.0 621.5L1251.0 622.4L1252.0 622.3L1253.0 621.4L1254.0 620.3L1255.0 619.6L1256.0 619.7L1257.0 620.8L1258.0 622.1L1259.0 623.1L1260.0 623.3L1261.0 622.6L1262.0 621.7L1263.0 621.3L1264.0 621.6L1265.0 621.8L1266.0 621.3L1267.0 620.2L1268.0 619.2L1269.0 619.3L1270.0 620.1L1271.0 620.7L1272.0 620.5L1273.0 620.0L1274.0 619.5L1275.0 619.1L1276.0 618.7L1277.0 618.1L1278.0 617.6L1279.0 617.4L1280.0 617.3L1281.0 617.2L1282.0 616.7L1283.0 615.9L1284.0 615.0L1285.0 614.4L1286.0 614.1L1287.0 614.4L1288.0 614.7L1289.0 614.7L1290.0 614.1L1291.0 613.4L1292.0 612.7L1293.0 612.0L1294.0 611.5L1295.0 611.1L1296.0 610.5L1297.0 609.4L1298.0 608.0L1299.0 606.7L1300.0 605.6L1301.0 604.5L1302.0 603.4L1303.0 602.3L1304.0 601.2L1305.0 600.1L1306.0 599.4L1307.0 599.1L1308.0 599.2L1309.0 599.4L1310.0 599.6L1311.0 599.7L1312.0 599.8L1313.0 600.0L1314.0 600.6L1315.0 601.4L1316.0 602.2L1317.0 602.7L1318.0 603.3L1319.0 604.2L1320.0 605.1L1321.0 605.8L1322.0 606.2L1323.0 606.4L1324.0 607.0L1325.0 608.5L1326.0 610.8L1327.0 613.0L1328.0 614.5L1329.0 615.4L1330.0 615.9L1331.0 616.0L1332.0 616.0L1333.0 616.0L1334.0 616.0L1335.0 616.1L1336.0 616.5L1337.0 617.2L1338.0 618.2L1339.0 619.1L1340.0 619.5L1341.0 619.3L1342.0 619.0L1343.0 618.8L1344.0 618.9L1345.0 619.4L1346.0 619.6L1347.0 619.4L1348.0 619.4L1349.0 620.3L1350.0 621.8L1351.0 623.3L1352.0 624.4L1353.0 625.1L1354.0 625.3L1355.0 624.7L1356.0 623.8L1357.0 623.3L1358.0 623.6L1359.0 624.1L1360.0 624.0L1361.0 623.6L1362.0 623.7L1363.0 624.3L1364.0 624.5L1365.0 624.0L1366.0 623.4L1367.0 623.3L1368.0 623.5L1369.0 623.9L1370.0 624.4L1371.0 625.0L1372.0 625.1L1373.0 624.9L1374.0 624.7L1375.0 625.4L1376.0 626.7L1377.0 627.9L1378.0 628.1L1379.0 627.3L1380.0 626.2L1381.0 625.6L1382.0 625.8L1383.0 626.2L1384.0 626.2L1385.0 625.1L1386.0 623.7L1387.0 623.0L1388.0 623.4L1389.0 623.9L1390.0 623.8L1391.0 623.3L1392.0 623.4L1393.0 624.4L1394.0 625.7L1395.0 627.0L1396.0 627.9L1397.0 628.5L1398.0 628.9L1399.0 628.9L1400.0 628.6L1401.0 627.8L1402.0 626.9L1403.0 626.2L1404.0 625.7L1405.0 625.7L1406.0 626.0L1407.0 626.6L1408.0 627.4L1409.0 627.8L1410.0 627.9L1411.0 627.9L1412.0 627.8L1413.0 627.3L1414.0 626.6L1415.0 626.1L1416.0 626.3L1417.0 627.1L1418.0 627.9L1419.0 628.2L1420.0 628.1L1421.0 627.9L1422.0 628.4L1423.0 629.3L1424.0 629.8L1425.0 629.2L1426.0 627.9L1427.0 626.5L1428.0 625.7L1429.0 625.5L1430.0 625.6L1431.0 625.9L1432.0 626.2L1433.0 626.3L1434.0 626.3L1435.0 625.9L1436.0 625.5L1437.0 625.4L1438.0 625.9L1439.0 626.7L1440.0 627.0L1441.0 626.7L1442.0 626.1L1443.0 625.4L1444.0 624.8L1445.0 624.2L1446.0 623.9L1447.0 624.4L1448.0 625.7L1449.0 627.2L1450.0 628.4L1451.0 629.4L1452.0 630.2L1453.0 630.7L1454.0 630.3L1455.0 628.9L1456.0 627.2L1457.0 625.9L1458.0 625.8L1459.0 626.4L1460.0 627.1L1461.0 627.5L1462.0 627.6L1463.0 627.4L1464.0 627.0L1465.0 626.6L1466.0 626.7L1467.0 627.0L1468.0 627.4L1469.0 627.6L1470.0 627.6L1471.0 627.8L1472.0 627.9L1473.0 627.6L1474.0 626.9L1475.0 626.0L1476.0 625.5L1477.0 625.8L1478.0 626.3L1479.0 626.3L1480.0 625.8L1481.0 625.5L1482.0 625.4L1483.0 625.2L1484.0 624.9L1485.0 625.0L1486.0 625.6L1487.0 626.1L1488.0 626.4L1489.0 626.7L1490.0 627.0L1491.0 627.2L1492.0 627.3L1493.0 627.3L1494.0 627.1L1495.0 626.4L1496.0 625.3L1497.0 623.9L1498.0 622.8L1499.0 622.6L1500.0 623.2L1501.0 624.0L1502.0 624.7L1503.0 625.2L1504.0 625.3L1505.0 625.3L1506.0 625.4L1507.0 625.7L1508.0 625.9L1509.0 626.0L1510.0 625.9L1511.0 625.5L1512.0 624.9L1513.0 624.4L1514.0 624.3L1515.0 624.4L1516.0 624.5L1517.0 624.3L1518.0 623.8L1519.0 623.3L1520.0 622.9L1521.0 622.7L1522.0 622.7L1523.0 622.7L1524.0 622.1L1525.0 620.8L1526.0 619.4L1527.0 618.9L1528.0 619.3L1529.0 619.9L1530.0 620.1L1531.0 619.9L1532.0 619.0L1533.0 617.2L1534.0 614.8L1535.0 612.6L1536.0 611.3L1537.0 611.3L1538.0 611.8L1539.0 612.2L1540.0 611.9L1541.0 611.3L1542.0 610.6L1543.0 609.8L1544.0 608.6L1545.0 606.9L1546.0 605.1L1547.0 604.1L1548.0 604.2L1549.0 604.8L1550.0 605.4L1551.0 605.6L1552.0 605.5L1553.0 605.3L1554.0 605.6L1555.0 606.5L1556.0 607.5L1557.0 608.3L1558.0 608.6L1559.0 608.7L1560.0 609.2L1561.0 610.2L1562.0 611.2L1563.0 612.2L1564.0 613.4L1565.0 615.0L1566.0 616.7L1567.0 618.3L1568.0 619.7L1569.0 620.7L1570.0 621.6L1571.0 622.3L1572.0 623.1L1573.0 623.7L1574.0 624.1L1575.0 624.5L1576.0 625.2L1577.0 626.1L1578.0 626.9L1579.0 627.5L1580.0 628.2L1581.0 629.2L1582.0 630.1L1583.0 630.3L1584.0 629.4L1585.0 627.6L1586.0 626.0L1587.0 625.8L1588.0 626.6L1589.0 627.6L1590.0 628.4L1591.0 628.9L1592.0 629.5L1593.0 629.9L1594.0 629.9L1595.0 629.2L1596.0 627.7L1597.0 625.5L1598.0 623.6L1599.0 623.0L1600.0 623.9L1601.0 625.8L1602.0 627.5L1603.0 628.3L1604.0 628.1L1605.0 627.9L1606.0 628.4L1607.0 628.8L1608.0 628.7L1609.0 628.2L1610.0 628.0L1611.0 628.4L1612.0 629.1L1613.0 629.6L1614.0 629.6L1615.0 629.1L1616.0 628.8L1617.0 629.1L1618.0 630.0L1619.0 630.6L1620.0 630.4L1621.0 629.7L1622.0 629.1L1623.0 628.8L1624.0 628.6L1625.0 628.6L1626.0 628.5L1627.0 627.9L1628.0 626.9L1629.0 626.1L1630.0 625.6L1631.0 625.5L1632.0 625.8L1633.0 626.6L1634.0 628.3L1635.0 630.4L1636.0 632.0L1637.0 632.7L1638.0 632.9L1639.0 633.0L1640.0 633.2L1641.0 633.8L1642.0 634.6L1643.0 635.0L1644.0 634.5L1645.0 633.3L1646.0 632.1L1647.0 631.3L1648.0 631.1L1649.0 631.1L1650.0 631.3L1651.0 631.7L1652.0 631.6L1653.0 631.2L1654.0 630.8L1655.0 631.2L1656.0 632.5L1657.0 633.8L1658.0 634.3L1659.0 633.8L1660.0 633.1L1661.0 632.6L1662.0 632.4L1663.0 632.3L1664.0 632.7L1665.0 633.9L1666.0 635.5L1667.0 636.5L1668.0 636.7L1669.0 636.0L1670.0 635.3L1671.0 635.1L1672.0 635.0L1673.0 634.4L1674.0 633.0L1675.0 631.9L1676.0 631.9L1677.0 633.0L1678.0 634.2L1679.0 634.8L1680.0 634.9L1681.0 634.7L1682.0 634.2L1683.0 633.7L1684.0 633.4L1685.0 633.2L1686.0 632.7L1687.0 631.9L1688.0 631.5L1689.0 632.4L1690.0 634.7L1691.0 637.3L1692.0 638.9L1693.0 639.2L1694.0 639.0L1695.0 638.6L1696.0 638.0L1697.0 637.0L1698.0 635.6L1699.0 634.4L1700.0 633.8L1701.0 633.6L1702.0 633.8L1703.0 634.2L1704.0 635.0L1705.0 636.1L1706.0 637.1L1707.0 637.6L1708.0 637.2L1709.0 636.3L1710.0 635.9L1711.0 636.2L1712.0 637.1"/>
<path id="c2" d="M279.0 803.0L280.0 803.6L281.0 804.2L282.0 804.8L283.0 805.4L284.0 806.0L285.0 806.6L286.0 807.2L287.0 807.8L288.0 808.4L289.0 809.1L290.0 809.7L291.0 810.3L292.0 810.9L293.0 811.6L294.0 812.2L295.0 812.8L296.0 813.4L297.0 814.0L298.0 814.6L299.0 815.2L300.0 815.8L301.0 816.4L302.0 817.0L303.0 817.6L304.0 818.1L305.0 818.6L306.0 819.2L307.0 819.7L308.0 820.1L309.0 820.6L310.0 821.1L311.0 821.5L312.0 822.0L313.0 822.4L314.0 822.9L315.0 823.3L316.0 823.8L317.0 824.2L318.0 824.7L319.0 825.1L320.0 825.6L321.0 826.0L322.0 826.4L323.0 826.8L324.0 827.2L325.0 827.6L326.0 828.0L327.0 828.3L328.0 828.7L329.0 829.0L330.0 829.4L331.0 829.7L332.0 830.0L333.0 830.2L334.0 830.5L335.0 830.7L336.0 831.0L337.0 831.2L338.0 831.3L339.0 831.5L340.0 831.6L341.0 831.8L342.0 832.0L343.0 832.1L344.0 832.3L345.0 832.4L346.0 832.5L347.0 832.7L348.0 832.8L349.0 832.9L350.0 833.1L351.0 833.2L352.0 833.3L353.0 833.4L354.0 833.5L355.0 833.6L356.0 833.7L357.0 833.8L358.0 833.9L359.0 834.0L360.0 834.0L361.0 834.1L362.0 834.2L363.0 834.2L364.0 834.2L365.0 834.3L366.0 834.3L367.0 834.3L368.0 834.3L369.0 834.3L370.0 834.3L371.0 834.3L372.0 834.3L373.0 834.3L374.0 834.3L375.0 834.3L376.0 834.3L377.0 834.3L378.0 834.3L379.0 834.3L380.0 834.3L381.0 834.3L382.0 834.3L383.0 834.3L384.0 834.3L385.0 834.3L386.0 834.3L387.0 834.3L388.0 834.3L389.0 834.3L390.0 834.3L391.0 834.3L392.0 834.3L393.0 834.3L394.0 834.3L395.0 834.3L396.0 834.3L397.0 834.3L398.0 834.3L399.0 834.2L400.0 834.2L401.0 834.1L402.0 834.0L403.0 833.8L404.0 833.7L405.0 833.5L406.0 833.3L407.0 833.1L408.0 832.9L409.0 832.7L410.0 832.4L411.0 832.1L412.0 831.9L413.0 831.6L414.0 831.3L415.0 831.0L416.0 830.7L417.0 830.4L418.0 830.1L419.0 829.7L420.0 829.4L421.0 829.1L422.0 828.8L423.0 828.5L424.0 828.1L425.0 827.8L426.0 827.5L427.0 827.2L428.0 826.9L429.0 826.5L430.0 826.2L431.0 825.8L432.0 825.4L433.0 825.1L434.0 824.7L435.0 824.3L436.0 823.8L437.0 823.4L438.0 823.0L439.0 822.5L440.0 822.1L441.0 821.6L442.0 821.1L443.0 820.6L444.0 820.1L445.0 819.6L446.0 819.1L447.0 818.6L448.0 818.0L449.0 817.5L450.0 816.9L451.0 816.4L452.0 815.8L453.0 815.2L454.0 814.6L455.0 814.0L456.0 813.4L457.0 812.7L458.0 812.0L459.0 811.3L460.0 810.5L461.0 809.7L462.0 808.9L463.0 808.1L464.0 807.2L465.0 806.3L466.0 805.4L467.0 804.5L468.0 803.6L469.0 802.7L470.0 801.7L471.0 800.8L472.0 799.9L473.0 798.9L474.0 798.0L475.0 797.0L476.0 796.1L477.0 795.1L478.0 794.2L479.0 793.3L480.0 792.3L481.0 791.4L482.0 790.4L483.0 789.4L484.0 788.4L485.0 787.4L486.0 786.4L487.0 785.3L488.0 784.2L489.0 783.1L490.0 782.0L491.0 780.8L492.0 779.6L493.0 778.3L494.0 777.1L495.0 775.7L496.0 774.3L497.0 772.8L498.0 771.3L499.0 769.6L500.0 768.0L501.0 766.2L502.0 764.5L503.0 762.7L504.0 760.8L505.0 759.0L506.0 757.1L507.0 755.2L508.0 753.3L509.0 751.5L510.0 749.6L511.0 747.7L512.0 745.9L513.0 744.1L514.0 742.3L515.0 740.5L516.0 738.7L517.0 736.8L518.0 735.0L519.0 733.2L520.0 731.4L521.0 729.6L522.0 727.8L523.0 726.0L524.0 724.2L525.0 722.5L526.0 720.8L527.0 719.1L528.0 717.4L529.0 715.7L530.0 713.9L531.0 712.2L532.0 710.5L533.0 708.7L534.0 707.0L535.0 705.2L536.0 703.4L537.0 701.6L538.0 699.9L539.0 698.1L540.0 696.5L541.0 694.8L542.0 693.2L543.0 691.5L544.0 689.9L545.0 688.4L546.0 687.1L547.0 686.0L548.0 685.1L549.0 684.1L550.0 683.2L551.0 682.3L552.0 681.6L553.0 680.9L554.0 680.4L555.0 680.1L556.0 680.0L557.0 680.1L558.0 680.5L559.0 681.1L560.0 681.9L561.0 682.7L562.0 683.6L563.0 684.5L564.0 685.4L565.0 686.5L566.0 687.6L567.0 689.0L568.0 690.4L569.0 692.1L570.0 694.0L571.0 696.5L572.0 699.6L573.0 702.9L574.0 706.2L575.0 709.5L576.0 712.7L577.0 715.9L578.0 719.1L579.0 722.5L580.0 725.8L581.0 729.2L582.0 732.8L583.0 736.5L584.0 740.2L585.0 743.9L586.0 747.5L587.0 751.0L588.0 754.4L589.0 757.5L590.0 760.4L591.0 763.2L592.0 765.8L593.0 768.4L594.0 770.8L595.0 773.2L596.0 775.6L597.0 777.9L598.0 780.2L599.0 782.4L600.0 784.7L601.0 787.0L602.0 789.3L603.0 791.6L604.0 794.0L605.0 796.5L606.0 799.0L607.0 801.5L608.0 804.0L609.0 806.4L610.0 808.7L611.0 810.8L612.0 812.8L613.0 814.6L614.0 816.3L615.0 817.9L616.0 819.6L617.0 821.1L618.0 822.6L619.0 824.1L620.0 825.4L621.0 826.7L622.0 827.9L623.0 829.1L624.0 830.1L625.0 831.0L626.0 831.9L627.0 832.8L628.0 833.6L629.0 834.5L630.0 835.4L631.0 836.2L632.0 837.0L633.0 837.8L634.0 838.6L635.0 839.3L636.0 840.0L637.0 840.6L638.0 841.2L639.0 841.8L640.0 842.3L641.0 842.7L642.0 843.0L643.0 843.3L644.0 843.5L645.0 843.6L646.0 843.6L647.0 843.5L648.0 843.2L649.0 842.9L650.0 842.4L651.0 841.9L652.0 841.3L653.0 840.7L654.0 840.1L655.0 839.6L656.0 839.0L657.0 838.4L658.0 837.7L659.0 836.9L660.0 836.0L661.0 835.2L662.0 834.3L663.0 833.6L664.0 832.9L665.0 832.4L666.0 832.1L667.0 832.0L668.0 832.2L669.0 832.7L670.0 833.5L671.0 834.5L672.0 835.6L673.0 836.8L674.0 838.1L675.0 839.3L676.0 840.3L677.0 841.3L678.0 842.0L679.0 842.6L680.0 843.2L681.0 843.8L682.0 844.4L683.0 845.0L684.0 845.5L685.0 846.1L686.0 846.5L687.0 847.0L688.0 847.4L689.0 847.7L690.0 848.0L691.0 848.2L692.0 848.3L693.0 848.3L694.0 848.3L695.0 848.2L696.0 848.1L697.0 847.9L698.0 847.8L699.0 847.5L700.0 847.3L701.0 847.0L702.0 846.7L703.0 846.4L704.0 846.1L705.0 845.7L706.0 845.3L707.0 844.9L708.0 844.5L709.0 844.1L710.0 843.7L711.0 843.2L712.0 842.8L713.0 842.4L714.0 841.9L715.0 841.4L716.0 841.0L717.0 840.6L718.0 840.1L719.0 839.7L720.0 839.3L721.0 838.9L722.0 838.5L723.0 838.0L724.0 837.6L725.0 837.2L726.0 836.7L727.0 836.3L728.0 835.8L729.0 835.3L730.0 834.8L731.0 834.4L732.0 833.9L733.0 833.4L734.0 832.8L735.0 832.3L736.0 831.8L737.0 831.3L738.0 830.7L739.0 830.2L740.0 829.6L741.0 829.1L742.0 828.5L743.0 827.9L744.0 827.3L745.0 826.8L746.0 826.2L747.0 825.6L748.0 825.0L749.0 824.5L750.0 823.9L751.0 823.3L752.0 822.7L753.0 822.1L754.0 821.5L755.0 820.9L756.0 820.3L757.0 819.6L758.0 818.9L759.0 818.2L760.0 817.5L761.0 816.7L762.0 816.0L763.0 815.1L764.0 814.3L765.0 813.4L766.0 812.5L767.0 811.5L768.0 810.5L769.0 809.4L770.0 808.1L771.0 806.7L772.0 805.2L773.0 803.5L774.0 801.8L775.0 799.9L776.0 798.0L777.0 795.9L778.0 793.5L779.0 790.9L780.0 788.1L781.0 785.2L782.0 782.0L783.0 778.7L784.0 775.2L785.0 771.6L786.0 767.7L787.0 763.6L788.0 759.2L789.0 754.4L790.0 749.3L791.0 743.7L792.0 737.5L793.0 729.3L794.0 720.0L795.0 710.5L796.0 701.9L797.0 695.0L798.0 688.9L799.0 683.0L800.0 677.4L801.0 671.5L802.0 663.6L803.0 653.0L804.0 643.0L805.0 633.6L806.0 627.1L807.0 622.1L808.0 618.0L809.0 615.0L810.0 612.5L811.0 610.2L812.0 608.6L813.0 608.0L814.0 608.6L815.0 610.2L816.0 612.5L817.0 615.0L818.0 618.0L819.0 622.0L820.0 627.0L821.0 633.9L822.0 644.6L823.0 655.2L824.0 665.4L825.0 673.1L826.0 679.5L827.0 687.1L828.0 695.8L829.0 703.2L830.0 709.6L831.0 715.4L832.0 720.9L833.0 726.4L834.0 731.9L835.0 737.8L836.0 744.3L837.0 751.4L838.0 758.5L839.0 765.6L840.0 773.0L841.0 779.6L842.0 784.0L843.0 787.6L844.0 790.6L845.0 793.1L846.0 795.0L847.0 796.6L848.0 798.0L849.0 799.2L850.0 800.3L851.0 801.3L852.0 802.2L853.0 803.0L854.0 803.8L855.0 804.5L856.0 805.3L857.0 806.0L858.0 806.6L859.0 807.2L860.0 807.7L861.0 808.2L862.0 808.7L863.0 809.0L864.0 809.4L865.0 809.7L866.0 809.9L867.0 810.2L868.0 810.4L869.0 810.7L870.0 810.9L871.0 811.1L872.0 811.3L873.0 811.5L874.0 811.7L875.0 812.0L876.0 812.2L877.0 812.5L878.0 812.8L879.0 813.0L880.0 813.3L881.0 813.5L882.0 813.7L883.0 813.8L884.0 813.9L885.0 813.9L886.0 813.8L887.0 813.7L888.0 813.4L889.0 813.1L890.0 812.6L891.0 812.1L892.0 811.6L893.0 811.0L894.0 810.3L895.0 809.6L896.0 808.8L897.0 807.7L898.0 806.1L899.0 804.3L900.0 802.2L901.0 800.1L902.0 798.0L903.0 796.0L904.0 793.8L905.0 791.6L906.0 789.4L907.0 787.0L908.0 784.6L909.0 781.8L910.0 778.7L911.0 775.6L912.0 772.7L913.0 770.1L914.0 768.2L915.0 766.7L916.0 765.2L917.0 763.7L918.0 762.3L919.0 761.0L920.0 759.8L921.0 758.7L922.0 757.8L923.0 757.0L924.0 756.5L925.0 756.1L926.0 756.0L927.0 756.1L928.0 756.5L929.0 757.1L930.0 758.0L931.0 759.1L932.0 760.4L933.0 762.0L934.0 763.8L935.0 765.8L936.0 768.1L937.0 770.7L938.0 774.4L939.0 783.7L940.0 795.3L941.0 804.9L942.0 810.2L943.0 814.3L944.0 817.9L945.0 821.0L946.0 823.8L947.0 826.4L948.0 829.0L949.0 831.4L950.0 833.8L951.0 836.1L952.0 838.2L953.0 840.3L954.0 842.3L955.0 844.1L956.0 845.9L957.0 847.6L958.0 849.2L959.0 850.7L960.0 852.2L961.0 853.7L962.0 855.1L963.0 856.5L964.0 857.9L965.0 859.2L966.0 860.4L967.0 861.6L968.0 862.7L969.0 863.6L970.0 864.5L971.0 865.3L972.0 866.0L973.0 866.6L974.0 867.1L975.0 867.6L976.0 868.1L977.0 868.5L978.0 868.9L979.0 869.3L980.0 869.6L981.0 870.0L982.0 870.3L983.0 870.7L984.0 871.0L985.0 871.3L986.0 871.7L987.0 872.0L988.0 872.4L989.0 872.7L990.0 873.1L991.0 873.4L992.0 873.7L993.0 874.1L994.0 874.4L995.0 874.7L996.0 875.0L997.0 875.4L998.0 875.7L999.0 876.0L1000.0 876.3L1001.0 876.6L1002.0 876.9L1003.0 877.2L1004.0 877.5L1005.0 877.7L1006.0 878.0L1007.0 878.3L1008.0 878.5L1009.0 878.8L1010.0 879.0L1011.0 879.2L1012.0 879.5L1013.0 879.7L1014.0 879.9L1015.0 880.1L1016.0 880.3L1017.0 880.4L1018.0 880.6L1019.0 880.7L1020.0 880.9L1021.0 881.0L1022.0 881.2L1023.0 881.3L1024.0 881.4L1025.0 881.6L1026.0 881.7L1027.0 881.8L1028.0 881.9L1029.0 882.0L1030.0 882.1L1031.0 882.2L1032.0 882.3L1033.0 882.4L1034.0 882.5L1035.0 882.6L1036.0 882.7L1037.0 882.8L1038.0 882.9L1039.0 883.0L1040.0 883.1L1041.0 883.2L1042.0 883.3L1043.0 883.3L1044.0 883.4L1045.0 883.5L1046.0 883.6L1047.0 883.7L1048.0 883.8L1049.0 883.8L1050.0 883.9L1051.0 884.0L1052.0 884.1L1053.0 884.2L1054.0 884.3L1055.0 884.4L1056.0 884.5L1057.0 884.5L1058.0 884.6L1059.0 884.7L1060.0 884.8L1061.0 884.9L1062.0 885.0L1063.0 885.1L1064.0 885.2L1065.0 885.4L1066.0 885.5L1067.0 885.6L1068.0 885.7L1069.0 885.8L1070.0 885.9L1071.0 886.0L1072.0 886.2L1073.0 886.3L1074.0 886.4L1075.0 886.5L1076.0 886.6L1077.0 886.8L1078.0 886.9L1079.0 887.0L1080.0 887.1L1081.0 887.3L1082.0 887.4L1083.0 887.5L1084.0 887.6L1085.0 887.8L1086.0 887.9L1087.0 888.0L1088.0 888.1L1089.0 888.3L1090.0 888.4L1091.0 888.5L1092.0 888.7L1093.0 888.8L1094.0 888.9L1095.0 889.0L1096.0 889.2L1097.0 889.3L1098.0 889.4L1099.0 889.6L1100.0 889.7L1101.0 889.8L1102.0 889.9L1103.0 890.1L1104.0 890.2L1105.0 890.3L1106.0 890.4L1107.0 890.6L1108.0 890.7L1109.0 890.8L1110.0 891.0L1111.0 891.1L1112.0 891.2L1113.0 891.3L1114.0 891.5L1115.0 891.6L1116.0 891.7L1117.0 891.9L1118.0 892.0L1119.0 892.2L1120.0 892.3L1121.0 892.4L1122.0 892.6L1123.0 892.7L1124.0 892.9L1125.0 893.0L1126.0 893.2L1127.0 893.3L1128.0 893.5L1129.0 893.6L1130.0 893.8L1131.0 893.9L1132.0 894.0L1133.0 894.2L1134.0 894.3L1135.0 894.5L1136.0 894.6L1137.0 894.7L1138.0 894.9L1139.0 895.0L1140.0 895.1L1141.0 895.3L1142.0 895.4L1143.0 895.5L1144.0 895.6L1145.0 895.7L1146.0 895.8L1147.0 896.0L1148.0 896.1L1149.0 896.1L1150.0 896.2L1151.0 896.3L1152.0 896.4L1153.0 896.5L1154.0 896.6L1155.0 896.6L1156.0 896.7L1157.0 896.7L1158.0 896.8L1159.0 896.9L1160.0 896.9L1161.0 897.0L1162.0 897.0L1163.0 897.1L1164.0 897.1L1165.0 897.2L1166.0 897.2L1167.0 897.3L1168.0 897.4L1169.0 897.4L1170.0 897.5L1171.0 897.5L1172.0 897.6L1173.0 897.6L1174.0 897.7L1175.0 897.7L1176.0 897.7L1177.0 897.8L1178.0 897.8L1179.0 897.9L1180.0 897.9L1181.0 898.0L1182.0 898.0L1183.0 898.0L1184.0 898.1L1185.0 898.1L1186.0 898.1L1187.0 898.2L1188.0 898.2L1189.0 898.2L1190.0 898.2L1191.0 898.3L1192.0 898.3L1193.0 898.3L1194.0 898.3L1195.0 898.3L1196.0 898.4L1197.0 898.4L1198.0 898.4L1199.0 898.4L1200.0 898.4L1201.0 898.4L1202.0 898.4L1203.0 898.4L1204.0 898.4L1205.0 898.4L1206.0 898.4L1207.0 898.4L1208.0 898.4L1209.0 898.4L1210.0 898.4L1211.0 898.4L1212.0 898.4L1213.0 898.4L1214.0 898.4L1215.0 898.4L1216.0 898.4L1217.0 898.4L1218.0 898.3L1219.0 898.3L1220.0 898.3L1221.0 898.3L1222.0 898.3L1223.0 898.3L1224.0 898.3L1225.0 898.3L1226.0 898.3L1227.0 898.3L1228.0 898.3L1229.0 898.2L1230.0 898.2L1231.0 898.2L1232.0 898.2L1233.0 898.2L1234.0 898.2L1235.0 898.2L1236.0 898.1L1237.0 898.1L1238.0 898.1L1239.0 898.1L1240.0 898.1L1241.0 898.0L1242.0 898.0L1243.0 898.0L1244.0 898.0L1245.0 898.0L1246.0 897.9L1247.0 897.9L1248.0 897.9L1249.0 897.8L1250.0 897.7L1251.0 897.5L1252.0 897.3L1253.0 897.0L1254.0 896.7L1255.0 896.3L1256.0 895.9L1257.0 895.5L1258.0 895.0L1259.0 894.5L1260.0 894.0L1261.0 893.5L1262.0 892.9L1263.0 892.3L1264.0 891.7L1265.0 891.1L1266.0 890.5L1267.0 889.9L1268.0 889.3L1269.0 888.6L1270.0 888.0L1271.0 887.4L1272.0 886.7L1273.0 886.0L1274.0 885.1L1275.0 884.1L1276.0 883.1L1277.0 882.0L1278.0 880.9L1279.0 879.7L1280.0 878.5L1281.0 877.2L1282.0 875.9L1283.0 874.6L1284.0 873.3L1285.0 871.9L1286.0 870.6L1287.0 869.3L1288.0 867.9L1289.0 866.6L1290.0 865.4L1291.0 864.2L1292.0 863.0L1293.0 861.9L1294.0 860.8L1295.0 859.8L1296.0 858.9L1297.0 858.0L1298.0 857.3L1299.0 856.6L1300.0 856.0L1301.0 855.6L1302.0 855.3L1303.0 855.1L1304.0 855.0L1305.0 855.1L1306.0 855.3L1307.0 855.6L1308.0 856.0L1309.0 856.6L1310.0 857.2L1311.0 857.9L1312.0 858.7L1313.0 859.5L1314.0 860.4L1315.0 861.3L1316.0 862.2L1317.0 863.2L1318.0 864.1L1319.0 865.1L1320.0 866.0L1321.0 867.0L1322.0 868.2L1323.0 869.6L1324.0 871.1L1325.0 872.8L1326.0 874.5L1327.0 876.4L1328.0 878.3L1329.0 880.2L1330.0 882.2L1331.0 884.2L1332.0 886.1L1333.0 888.0L1334.0 889.9L1335.0 891.6L1336.0 893.3L1337.0 894.8L1338.0 896.2L1339.0 897.4L1340.0 898.4L1341.0 899.3L1342.0 899.9L1343.0 900.2L1344.0 900.4L1345.0 900.6L1346.0 900.8L1347.0 901.0L1348.0 901.2L1349.0 901.4L1350.0 901.5L1351.0 901.7L1352.0 901.9L1353.0 902.0L1354.0 902.2L1355.0 902.3L1356.0 902.5L1357.0 902.6L1358.0 902.8L1359.0 902.9L1360.0 903.0L1361.0 903.2L1362.0 903.3L1363.0 903.4L1364.0 903.5L1365.0 903.6L1366.0 903.7L1367.0 903.8L1368.0 903.9L1369.0 904.0L1370.0 904.1L1371.0 904.1L1372.0 904.2L1373.0 904.3L1374.0 904.3L1375.0 904.4L1376.0 904.5L1377.0 904.5L1378.0 904.6L1379.0 904.6L1380.0 904.6L1381.0 904.7L1382.0 904.7L1383.0 904.7L1384.0 904.8L1385.0 904.8L1386.0 904.8L1387.0 904.8L1388.0 904.8L1389.0 904.8L1390.0 904.8L1391.0 904.8L1392.0 904.8L1393.0 904.7L1394.0 904.7L1395.0 904.6L1396.0 904.6L1397.0 904.5L1398.0 904.5L1399.0 904.4L1400.0 904.3L1401.0 904.2L1402.0 904.2L1403.0 904.1L1404.0 904.0L1405.0 903.9L1406.0 903.8L1407.0 903.7L1408.0 903.6L1409.0 903.4L1410.0 903.3L1411.0 903.2L1412.0 903.1L1413.0 903.0L1414.0 902.8L1415.0 902.7L1416.0 902.6L1417.0 902.4L1418.0 902.3L1419.0 902.2L1420.0 902.0L1421.0 901.9L1422.0 901.8L1423.0 901.6L1424.0 901.5L1425.0 901.4L1426.0 901.2L1427.0 901.1L1428.0 901.0L1429.0 900.9L1430.0 900.7L1431.0 900.6L1432.0 900.5L1433.0 900.4L1434.0 900.3L1435.0 900.1L1436.0 900.0L1437.0 899.9L1438.0 899.9L1439.0 899.8L1440.0 899.7L1441.0 899.6L1442.0 899.5L1443.0 899.4L1444.0 899.3L1445.0 899.2L1446.0 899.1L1447.0 899.0L1448.0 898.9L1449.0 898.7L1450.0 898.6L1451.0 898.4L1452.0 898.2L1453.0 898.0L1454.0 897.5L1455.0 896.7L1456.0 895.6L1457.0 894.2L1458.0 892.6L1459.0 890.8L1460.0 888.8L1461.0 886.7L1462.0 884.6L1463.0 882.4L1464.0 880.2L1465.0 878.0L1466.0 876.0L1467.0 874.0L1468.0 872.2L1469.0 870.6L1470.0 869.3L1471.0 868.2L1472.0 867.4L1473.0 867.1L1474.0 867.1L1475.0 867.6L1476.0 868.5L1477.0 869.8L1478.0 871.4L1479.0 873.3L1480.0 875.3L1481.0 877.4L1482.0 879.5L1483.0 881.6L1484.0 883.6L1485.0 885.5L1486.0 887.1L1487.0 888.4L1488.0 889.3L1489.0 889.8L1490.0 889.9L1491.0 889.8L1492.0 889.8L1493.0 889.6L1494.0 889.5L1495.0 889.3L1496.0 889.0L1497.0 888.8L1498.0 888.5L1499.0 888.1L1500.0 887.8L1501.0 887.4L1502.0 887.0L1503.0 886.6L1504.0 886.1L1505.0 885.6L1506.0 885.2L1507.0 884.7L1508.0 884.2L1509.0 883.7L1510.0 883.2L1511.0 882.6L1512.0 882.1L1513.0 881.6L1514.0 881.1L1515.0 880.5L1516.0 879.9L1517.0 879.2L1518.0 878.4L1519.0 877.5L1520.0 876.6L1521.0 875.5L1522.0 874.4L1523.0 873.3L1524.0 872.1L1525.0 870.8L1526.0 869.5L1527.0 868.2L1528.0 866.9L1529.0 865.5L1530.0 864.2L1531.0 862.8L1532.0 861.5L1533.0 860.2L1534.0 858.8L1535.0 857.6L1536.0 856.3L1537.0 855.1L1538.0 854.0L1539.0 852.9L1540.0 851.9L1541.0 851.0L1542.0 850.1L1543.0 849.3L1544.0 848.7L1545.0 848.1L1546.0 847.6L1547.0 847.3L1548.0 847.1L1549.0 847.0L1550.0 847.1L1551.0 847.5L1552.0 848.1L1553.0 849.0L1554.0 850.0L1555.0 851.2L1556.0 852.6L1557.0 854.2L1558.0 855.8L1559.0 857.5L1560.0 859.3L1561.0 861.1L1562.0 863.0L1563.0 864.8L1564.0 866.7L1565.0 868.5L1566.0 870.2L1567.0 871.8L1568.0 873.3L1569.0 874.7L1570.0 875.9L1571.0 877.0L1572.0 878.0L1573.0 879.0L1574.0 879.9L1575.0 881.0L1576.0 882.0L1577.0 883.0L1578.0 884.0L1579.0 884.9L1580.0 885.9L1581.0 886.8L1582.0 887.7L1583.0 888.6L1584.0 889.5L1585.0 890.2L1586.0 891.0L1587.0 891.7L1588.0 892.3L1589.0 892.8L1590.0 893.3L1591.0 893.7L1592.0 894.1L1593.0 894.3L1594.0 894.4L1595.0 894.5L1596.0 894.5L1597.0 894.5L1598.0 894.4L1599.0 894.3L1600.0 894.2L1601.0 894.1L1602.0 894.0L1603.0 893.9L1604.0 893.7L1605.0 893.6L1606.0 893.4L1607.0 893.2L1608.0 893.1L1609.0 892.9L1610.0 892.7L1611.0 892.5L1612.0 892.4L1613.0 892.2L1614.0 892.0L1615.0 891.9L1616.0 891.7L1617.0 891.6L1618.0 891.5L1619.0 891.3L1620.0 891.2L1621.0 891.1L1622.0 891.1L1623.0 891.0L1624.0 891.0L1625.0 891.0L1626.0 891.0L1627.0 891.1L1628.0 891.3L1629.0 891.4L1630.0 891.7L1631.0 891.9L1632.0 892.2L1633.0 892.5L1634.0 892.8L1635.0 893.2L1636.0 893.6L1637.0 894.0L1638.0 894.4L1639.0 894.8L1640.0 895.3L1641.0 895.7L1642.0 896.2L1643.0 896.6L1644.0 897.1L1645.0 897.5L1646.0 897.9L1647.0 898.4L1648.0 898.8L1649.0 899.1L1650.0 899.5L1651.0 899.8L1652.0 900.1L1653.0 900.4L1654.0 900.7L1655.0 901.0L1656.0 901.3L1657.0 901.6L1658.0 901.8L1659.0 902.1L1660.0 902.4L1661.0 902.7L1662.0 902.9L1663.0 903.2L1664.0 903.5L1665.0 903.7L1666.0 904.0L1667.0 904.2L1668.0 904.5L1669.0 904.7L1670.0 904.9L1671.0 905.2L1672.0 905.4L1673.0 905.6L1674.0 905.8L1675.0 906.0L1676.0 906.2L1677.0 906.4L1678.0 906.6L1679.0 906.8L1680.0 906.9L1681.0 907.1L1682.0 907.3L1683.0 907.5L1684.0 907.6L1685.0 907.8L1686.0 907.9L1687.0 908.1L1688.0 908.3L1689.0 908.4L1690.0 908.6L1691.0 908.7L1692.0 908.9L1693.0 909.0L1694.0 909.2L1695.0 909.3L1696.0 909.5L1697.0 909.6L1698.0 909.8L1699.0 909.9L1700.0 910.1L1701.0 910.2L1702.0 910.4L1703.0 910.5L1704.0 910.7L1705.0 910.8L1706.0 911.0L1707.0 911.2L1708.0 911.3L1709.0 911.5L1710.0 911.7L1711.0 911.8L1712.0 912.0"/>
<path id="c3" d="M279.0 1116.5L280.0 1116.8L281.0 1117.1L282.0 1117.4L283.0 1117.7L284.0 1118.0L285.0 1118.3L286.0 1118.6L287.0 1119.0L288.0 1119.3L289.0 1119.6L290.0 1120.0L291.0 1120.3L292.0 1120.7L293.0 1121.0L294.0 1121.4L295.0 1121.7L296.0 1122.1L297.0 1122.4L298.0 1122.8L299.0 1123.1L300.0 1123.4L301.0 1123.8L302.0 1124.1L303.0 1124.4L304.0 1124.7L305.0 1125.0L306.0 1125.2L307.0 1125.5L308.0 1125.8L309.0 1126.0L310.0 1126.2L311.0 1126.4L312.0 1126.6L313.0 1126.8L314.0 1127.0L315.0 1127.1L316.0 1127.3L317.0 1127.5L318.0 1127.7L319.0 1127.9L320.0 1128.0L321.0 1128.2L322.0 1128.4L323.0 1128.5L324.0 1128.7L325.0 1128.8L326.0 1129.0L327.0 1129.1L328.0 1129.3L329.0 1129.4L330.0 1129.5L331.0 1129.7L332.0 1129.8L333.0 1129.9L334.0 1130.0L335.0 1130.1L336.0 1130.2L337.0 1130.2L338.0 1130.3L339.0 1130.4L340.0 1130.4L341.0 1130.5L342.0 1130.5L343.0 1130.5L344.0 1130.6L345.0 1130.6L346.0 1130.6L347.0 1130.6L348.0 1130.7L349.0 1130.7L350.0 1130.7L351.0 1130.7L352.0 1130.8L353.0 1130.8L354.0 1130.8L355.0 1130.8L356.0 1130.8L357.0 1130.9L358.0 1130.9L359.0 1130.9L360.0 1130.9L361.0 1130.9L362.0 1130.9L363.0 1130.9L364.0 1131.0L365.0 1131.0L366.0 1131.0L367.0 1131.0L368.0 1131.0L369.0 1131.0L370.0 1131.0L371.0 1131.0L372.0 1131.0L373.0 1131.0L374.0 1131.0L375.0 1131.0L376.0 1131.0L377.0 1131.0L378.0 1131.0L379.0 1130.9L380.0 1130.9L381.0 1130.9L382.0 1130.9L383.0 1130.9L384.0 1130.8L385.0 1130.8L386.0 1130.8L387.0 1130.7L388.0 1130.7L389.0 1130.6L390.0 1130.6L391.0 1130.5L392.0 1130.5L393.0 1130.4L394.0 1130.3L395.0 1130.3L396.0 1130.2L397.0 1130.1L398.0 1130.0L399.0 1130.0L400.0 1129.9L401.0 1129.8L402.0 1129.7L403.0 1129.6L404.0 1129.5L405.0 1129.2L406.0 1128.6L407.0 1128.0L408.0 1127.2L409.0 1126.3L410.0 1125.4L411.0 1124.5L412.0 1123.7L413.0 1122.9L414.0 1122.3L415.0 1121.8L416.0 1121.2L417.0 1120.7L418.0 1120.2L419.0 1119.6L420.0 1119.1L421.0 1118.6L422.0 1118.1L423.0 1117.6L424.0 1117.2L425.0 1116.7L426.0 1116.3L427.0 1115.9L428.0 1115.5L429.0 1115.2L430.0 1114.9L431.0 1114.6L432.0 1114.4L433.0 1114.2L434.0 1114.1L435.0 1114.0L436.0 1113.9L437.0 1113.8L438.0 1113.8L439.0 1113.7L440.0 1113.7L441.0 1113.6L442.0 1113.6L443.0 1113.6L444.0 1113.5L445.0 1113.5L446.0 1113.5L447.0 1113.5L448.0 1113.4L449.0 1113.4L450.0 1113.3L451.0 1113.3L452.0 1113.2L453.0 1113.2L454.0 1113.1L455.0 1113.0L456.0 1112.9L457.0 1112.7L458.0 1112.3L459.0 1111.9L460.0 1111.4L461.0 1110.7L462.0 1110.0L463.0 1109.3L464.0 1108.4L465.0 1107.5L466.0 1106.6L467.0 1105.6L468.0 1104.6L469.0 1103.6L470.0 1102.6L471.0 1101.5L472.0 1100.5L473.0 1099.4L474.0 1098.4L475.0 1097.4L476.0 1096.4L477.0 1095.4L478.0 1094.4L479.0 1093.3L480.0 1092.3L481.0 1091.1L482.0 1090.0L483.0 1088.8L484.0 1087.6L485.0 1086.4L486.0 1085.2L487.0 1084.0L488.0 1082.7L489.0 1081.4L490.0 1080.2L491.0 1078.9L492.0 1077.6L493.0 1076.3L494.0 1075.0L495.0 1073.7L496.0 1072.4L497.0 1071.2L498.0 1069.9L499.0 1068.6L500.0 1067.3L501.0 1066.0L502.0 1064.6L503.0 1063.3L504.0 1061.9L505.0 1060.6L506.0 1059.2L507.0 1057.8L508.0 1056.5L509.0 1055.1L510.0 1053.7L511.0 1052.3L512.0 1051.0L513.0 1049.6L514.0 1048.2L515.0 1046.8L516.0 1045.4L517.0 1044.0L518.0 1042.6L519.0 1041.2L520.0 1039.7L521.0 1038.3L522.0 1036.8L523.0 1035.2L524.0 1033.7L525.0 1032.2L526.0 1030.6L527.0 1029.1L528.0 1027.6L529.0 1026.1L530.0 1024.7L531.0 1023.3L532.0 1021.9L533.0 1020.5L534.0 1019.2L535.0 1018.0L536.0 1016.8L537.0 1015.7L538.0 1014.7L539.0 1013.6L540.0 1012.6L541.0 1011.5L542.0 1010.4L543.0 1009.3L544.0 1008.2L545.0 1007.1L546.0 1006.1L547.0 1005.2L548.0 1004.3L549.0 1003.5L550.0 1002.8L551.0 1002.2L552.0 1001.7L553.0 1001.3L554.0 1001.1L555.0 1001.0L556.0 1001.1L557.0 1001.3L558.0 1001.7L559.0 1002.3L560.0 1003.0L561.0 1003.8L562.0 1004.7L563.0 1005.8L564.0 1006.9L565.0 1008.1L566.0 1009.5L567.0 1010.9L568.0 1012.3L569.0 1013.9L570.0 1015.5L571.0 1017.1L572.0 1018.7L573.0 1020.4L574.0 1022.1L575.0 1023.9L576.0 1025.6L577.0 1027.3L578.0 1029.0L579.0 1030.7L580.0 1032.7L581.0 1034.9L582.0 1037.2L583.0 1039.6L584.0 1042.2L585.0 1044.7L586.0 1047.3L587.0 1049.8L588.0 1052.3L589.0 1054.7L590.0 1057.1L591.0 1059.5L592.0 1061.9L593.0 1064.2L594.0 1066.6L595.0 1069.0L596.0 1071.4L597.0 1073.7L598.0 1076.0L599.0 1078.3L600.0 1080.5L601.0 1082.6L602.0 1084.8L603.0 1086.9L604.0 1089.0L605.0 1091.1L606.0 1093.1L607.0 1095.2L608.0 1097.3L609.0 1099.4L610.0 1101.5L611.0 1103.6L612.0 1105.9L613.0 1108.3L614.0 1110.7L615.0 1113.2L616.0 1115.5L617.0 1117.6L618.0 1119.5L619.0 1121.0L620.0 1122.3L621.0 1123.5L622.0 1124.7L623.0 1125.8L624.0 1126.9L625.0 1127.8L626.0 1128.7L627.0 1129.4L628.0 1130.1L629.0 1130.6L630.0 1131.0L631.0 1131.3L632.0 1131.6L633.0 1131.9L634.0 1132.2L635.0 1132.4L636.0 1132.7L637.0 1132.9L638.0 1133.1L639.0 1133.3L640.0 1133.5L641.0 1133.7L642.0 1133.8L643.0 1134.0L644.0 1134.1L645.0 1134.2L646.0 1134.3L647.0 1134.5L648.0 1134.6L649.0 1134.6L650.0 1134.7L651.0 1134.8L652.0 1134.9L653.0 1134.9L654.0 1135.0L655.0 1135.1L656.0 1135.1L657.0 1135.2L658.0 1135.3L659.0 1135.3L660.0 1135.4L661.0 1135.4L662.0 1135.5L663.0 1135.5L664.0 1135.6L665.0 1135.6L666.0 1135.7L667.0 1135.7L668.0 1135.8L669.0 1135.8L670.0 1135.8L671.0 1135.9L672.0 1135.9L673.0 1135.9L674.0 1135.9L675.0 1136.0L676.0 1136.0L677.0 1136.0L678.0 1136.0L679.0 1136.0L680.0 1136.0L681.0 1136.0L682.0 1136.0L683.0 1135.9L684.0 1135.9L685.0 1135.8L686.0 1135.8L687.0 1135.7L688.0 1135.6L689.0 1135.5L690.0 1135.4L691.0 1135.2L692.0 1135.1L693.0 1135.0L694.0 1134.8L695.0 1134.7L696.0 1134.5L697.0 1134.3L698.0 1134.2L699.0 1134.0L700.0 1133.8L701.0 1133.6L702.0 1133.4L703.0 1133.1L704.0 1132.8L705.0 1132.5L706.0 1132.1L707.0 1131.7L708.0 1131.3L709.0 1130.8L710.0 1130.3L711.0 1129.8L712.0 1129.3L713.0 1128.8L714.0 1128.2L715.0 1127.7L716.0 1127.1L717.0 1126.6L718.0 1126.0L719.0 1125.5L720.0 1125.0L721.0 1124.5L722.0 1123.9L723.0 1123.4L724.0 1122.9L725.0 1122.4L726.0 1121.9L727.0 1121.4L728.0 1120.9L729.0 1120.4L730.0 1119.8L731.0 1119.3L732.0 1118.8L733.0 1118.2L734.0 1117.6L735.0 1117.0L736.0 1116.4L737.0 1115.8L738.0 1115.2L739.0 1114.5L740.0 1113.8L741.0 1113.1L742.0 1112.4L743.0 1111.6L744.0 1110.8L745.0 1110.0L746.0 1109.2L747.0 1108.3L748.0 1107.4L749.0 1106.5L750.0 1105.5L751.0 1104.5L752.0 1103.5L753.0 1102.5L754.0 1101.4L755.0 1100.3L756.0 1099.2L757.0 1098.1L758.0 1096.9L759.0 1095.7L760.0 1094.4L761.0 1093.2L762.0 1091.9L763.0 1090.6L764.0 1089.1L765.0 1087.6L766.0 1086.0L767.0 1084.3L768.0 1082.6L769.0 1080.8L770.0 1078.9L771.0 1077.0L772.0 1075.1L773.0 1073.1L774.0 1071.1L775.0 1068.9L776.0 1066.5L777.0 1063.8L778.0 1060.7L779.0 1056.7L780.0 1052.0L781.0 1047.1L782.0 1042.4L783.0 1038.2L784.0 1034.3L785.0 1030.5L786.0 1026.7L787.0 1022.7L788.0 1018.4L789.0 1013.9L790.0 1009.3L791.0 1004.6L792.0 1000.0L793.0 995.5L794.0 991.2L795.0 986.9L796.0 982.4L797.0 977.2L798.0 970.7L799.0 962.1L800.0 949.3L801.0 927.0L802.0 908.0L803.0 899.9L804.0 894.4L805.0 890.1L806.0 886.8L807.0 884.3L808.0 882.0L809.0 880.0L810.0 878.8L811.0 878.6L812.0 879.4L813.0 881.1L814.0 883.2L815.0 885.5L816.0 888.0L817.0 891.3L818.0 895.5L819.0 901.7L820.0 911.0L821.0 921.7L822.0 934.5L823.0 948.1L824.0 962.7L825.0 973.0L826.0 980.7L827.0 987.1L828.0 993.0L829.0 999.0L830.0 1004.9L831.0 1010.8L832.0 1016.5L833.0 1022.0L834.0 1027.3L835.0 1032.2L836.0 1036.8L837.0 1041.0L838.0 1044.7L839.0 1048.0L840.0 1051.0L841.0 1053.9L842.0 1056.5L843.0 1058.9L844.0 1061.0L845.0 1063.0L846.0 1064.8L847.0 1066.5L848.0 1068.1L849.0 1069.5L850.0 1070.9L851.0 1072.3L852.0 1073.5L853.0 1074.7L854.0 1075.9L855.0 1077.0L856.0 1078.1L857.0 1079.3L858.0 1080.5L859.0 1081.6L860.0 1082.6L861.0 1083.4L862.0 1084.0L863.0 1084.4L864.0 1084.7L865.0 1084.9L866.0 1085.2L867.0 1085.4L868.0 1085.6L869.0 1085.7L870.0 1085.9L871.0 1086.0L872.0 1086.0L873.0 1086.1L874.0 1086.1L875.0 1086.1L876.0 1086.0L877.0 1086.0L878.0 1085.9L879.0 1085.8L880.0 1085.7L881.0 1085.6L882.0 1085.4L883.0 1085.3L884.0 1085.1L885.0 1085.0L886.0 1084.8L887.0 1084.6L888.0 1084.4L889.0 1084.2L890.0 1084.0L891.0 1083.7L892.0 1083.3L893.0 1083.0L894.0 1082.6L895.0 1082.1L896.0 1081.6L897.0 1080.7L898.0 1079.5L899.0 1077.9L900.0 1076.0L901.0 1074.1L902.0 1072.0L903.0 1070.0L904.0 1067.9L905.0 1065.5L906.0 1063.0L907.0 1060.3L908.0 1057.6L909.0 1054.8L910.0 1051.6L911.0 1048.0L912.0 1044.4L913.0 1041.2L914.0 1039.0L915.0 1037.8L916.0 1036.8L917.0 1035.8L918.0 1035.0L919.0 1034.2L920.0 1033.6L921.0 1033.0L922.0 1032.6L923.0 1032.3L924.0 1032.1L925.0 1032.0L926.0 1032.2L927.0 1032.8L928.0 1033.8L929.0 1035.1L930.0 1036.7L931.0 1038.5L932.0 1040.5L933.0 1042.7L934.0 1045.0L935.0 1048.3L936.0 1053.0L937.0 1058.6L938.0 1064.7L939.0 1070.6L940.0 1075.9L941.0 1080.3L942.0 1084.7L943.0 1088.8L944.0 1092.7L945.0 1096.3L946.0 1099.7L947.0 1102.8L948.0 1105.7L949.0 1108.5L950.0 1111.1L951.0 1113.7L952.0 1116.1L953.0 1118.5L954.0 1120.8L955.0 1123.2L956.0 1125.7L957.0 1128.2L958.0 1130.7L959.0 1133.1L960.0 1135.4L961.0 1137.4L962.0 1139.3L963.0 1140.8L964.0 1141.9L965.0 1142.7L966.0 1143.2L967.0 1143.6L968.0 1144.0L969.0 1144.4L970.0 1144.7L971.0 1145.0L972.0 1145.3L973.0 1145.6L974.0 1145.8L975.0 1146.0L976.0 1146.2L977.0 1146.4L978.0 1146.6L979.0 1146.9L980.0 1147.1L981.0 1147.3L982.0 1147.6L983.0 1147.8L984.0 1148.2L985.0 1148.5L986.0 1148.8L987.0 1149.1L988.0 1149.5L989.0 1149.8L990.0 1150.2L991.0 1150.6L992.0 1151.0L993.0 1151.3L994.0 1151.7L995.0 1152.1L996.0 1152.5L997.0 1152.9L998.0 1153.3L999.0 1153.7L1000.0 1154.1L1001.0 1154.5L1002.0 1154.9L1003.0 1155.3L1004.0 1155.7L1005.0 1156.1L1006.0 1156.5L1007.0 1156.9L1008.0 1157.3L1009.0 1157.6L1010.0 1158.0L1011.0 1158.4L1012.0 1158.8L1013.0 1159.1L1014.0 1159.5L1015.0 1159.8L1016.0 1160.1L1017.0 1160.5L1018.0 1160.8L1019.0 1161.1L1020.0 1161.4L1021.0 1161.6L1022.0 1161.9L1023.0 1162.2L1024.0 1162.4L1025.0 1162.6L1026.0 1162.8L1027.0 1163.0L1028.0 1163.2L1029.0 1163.3L1030.0 1163.5L1031.0 1163.6L1032.0 1163.8L1033.0 1163.9L1034.0 1164.1L1035.0 1164.2L1036.0 1164.3L1037.0 1164.4L1038.0 1164.5L1039.0 1164.7L1040.0 1164.8L1041.0 1164.9L1042.0 1165.0L1043.0 1165.1L1044.0 1165.2L1045.0 1165.3L1046.0 1165.4L1047.0 1165.5L1048.0 1165.5L1049.0 1165.6L1050.0 1165.7L1051.0 1165.8L1052.0 1165.9L1053.0 1166.0L1054.0 1166.1L1055.0 1166.1L1056.0 1166.2L1057.0 1166.3L1058.0 1166.4L1059.0 1166.5L1060.0 1166.5L1061.0 1166.6L1062.0 1166.7L1063.0 1166.8L1064.0 1166.9L1065.0 1167.0L1066.0 1167.1L1067.0 1167.1L1068.0 1167.2L1069.0 1167.3L1070.0 1167.4L1071.0 1167.5L1072.0 1167.6L1073.0 1167.7L1074.0 1167.8L1075.0 1168.0L1076.0 1168.1L1077.0 1168.2L1078.0 1168.3L1079.0 1168.4L1080.0 1168.5L1081.0 1168.7L1082.0 1168.8L1083.0 1168.9L1084.0 1169.1L1085.0 1169.2L1086.0 1169.3L1087.0 1169.4L1088.0 1169.6L1089.0 1169.7L1090.0 1169.8L1091.0 1170.0L1092.0 1170.1L1093.0 1170.2L1094.0 1170.4L1095.0 1170.5L1096.0 1170.7L1097.0 1170.8L1098.0 1170.9L1099.0 1171.1L1100.0 1171.2L1101.0 1171.3L1102.0 1171.5L1103.0 1171.6L1104.0 1171.7L1105.0 1171.9L1106.0 1172.0L1107.0 1172.1L1108.0 1172.2L1109.0 1172.4L1110.0 1172.5L1111.0 1172.6L1112.0 1172.7L1113.0 1172.8L1114.0 1172.9L1115.0 1173.1L1116.0 1173.2L1117.0 1173.3L1118.0 1173.4L1119.0 1173.5L1120.0 1173.6L1121.0 1173.7L1122.0 1173.8L1123.0 1173.8L1124.0 1173.9L1125.0 1174.0L1126.0 1174.1L1127.0 1174.2L1128.0 1174.3L1129.0 1174.4L1130.0 1174.5L1131.0 1174.6L1132.0 1174.7L1133.0 1174.8L1134.0 1174.9L1135.0 1175.0L1136.0 1175.1L1137.0 1175.2L1138.0 1175.3L1139.0 1175.4L1140.0 1175.5L1141.0 1175.6L1142.0 1175.7L1143.0 1175.8L1144.0 1175.9L1145.0 1176.0L1146.0 1176.1L1147.0 1176.1L1148.0 1176.2L1149.0 1176.3L1150.0 1176.4L1151.0 1176.4L1152.0 1176.5L1153.0 1176.6L1154.0 1176.6L1155.0 1176.7L1156.0 1176.7L1157.0 1176.8L1158.0 1176.8L1159.0 1176.9L1160.0 1176.9L1161.0 1176.9L1162.0 1177.0L1163.0 1177.0L1164.0 1177.0L1165.0 1177.0L1166.0 1177.0L1167.0 1177.0L1168.0 1177.0L1169.0 1177.0L1170.0 1177.0L1171.0 1177.0L1172.0 1177.0L1173.0 1177.0L1174.0 1177.0L1175.0 1177.0L1176.0 1177.0L1177.0 1177.0L1178.0 1177.0L1179.0 1177.0L1180.0 1177.0L1181.0 1177.0L1182.0 1177.0L1183.0 1177.0L1184.0 1177.0L1185.0 1177.0L1186.0 1177.0L1187.0 1177.0L1188.0 1177.0L1189.0 1177.0L1190.0 1177.0L1191.0 1177.0L1192.0 1177.0L1193.0 1177.0L1194.0 1177.0L1195.0 1177.0L1196.0 1177.0L1197.0 1177.0L1198.0 1177.0L1199.0 1177.0L1200.0 1177.0L1201.0 1177.0L1202.0 1177.0L1203.0 1177.0L1204.0 1177.0L1205.0 1177.0L1206.0 1177.0L1207.0 1177.0L1208.0 1177.0L1209.0 1177.0L1210.0 1177.0L1211.0 1177.0L1212.0 1177.0L1213.0 1177.0L1214.0 1177.0L1215.0 1177.0L1216.0 1177.0L1217.0 1176.9L1218.0 1176.9L1219.0 1176.9L1220.0 1176.9L1221.0 1176.8L1222.0 1176.8L1223.0 1176.8L1224.0 1176.7L1225.0 1176.7L1226.0 1176.6L1227.0 1176.6L1228.0 1176.5L1229.0 1176.4L1230.0 1176.4L1231.0 1176.3L1232.0 1176.2L1233.0 1176.1L1234.0 1176.1L1235.0 1176.0L1236.0 1175.9L1237.0 1175.8L1238.0 1175.7L1239.0 1175.6L1240.0 1175.5L1241.0 1175.4L1242.0 1175.3L1243.0 1175.2L1244.0 1175.1L1245.0 1175.0L1246.0 1174.8L1247.0 1174.7L1248.0 1174.5L1249.0 1174.3L1250.0 1174.0L1251.0 1173.6L1252.0 1173.2L1253.0 1172.8L1254.0 1172.3L1255.0 1171.8L1256.0 1171.3L1257.0 1170.7L1258.0 1170.1L1259.0 1169.4L1260.0 1168.8L1261.0 1168.1L1262.0 1167.4L1263.0 1166.7L1264.0 1166.0L1265.0 1165.3L1266.0 1164.6L1267.0 1163.8L1268.0 1163.1L1269.0 1162.4L1270.0 1161.7L1271.0 1160.9L1272.0 1160.0L1273.0 1159.0L1274.0 1157.9L1275.0 1156.8L1276.0 1155.6L1277.0 1154.3L1278.0 1153.0L1279.0 1151.7L1280.0 1150.4L1281.0 1149.0L1282.0 1147.6L1283.0 1146.2L1284.0 1144.8L1285.0 1143.4L1286.0 1142.0L1287.0 1140.7L1288.0 1139.4L1289.0 1138.1L1290.0 1136.8L1291.0 1135.6L1292.0 1134.5L1293.0 1133.4L1294.0 1132.4L1295.0 1131.5L1296.0 1130.7L1297.0 1130.0L1298.0 1129.3L1299.0 1128.8L1300.0 1128.4L1301.0 1128.2L1302.0 1128.0L1303.0 1128.0L1304.0 1128.3L1305.0 1128.7L1306.0 1129.4L1307.0 1130.2L1308.0 1131.2L1309.0 1132.4L1310.0 1133.7L1311.0 1135.1L1312.0 1136.6L1313.0 1138.3L1314.0 1140.0L1315.0 1141.7L1316.0 1143.5L1317.0 1145.3L1318.0 1147.2L1319.0 1149.0L1320.0 1150.9L1321.0 1152.6L1322.0 1154.4L1323.0 1156.0L1324.0 1157.6L1325.0 1159.1L1326.0 1160.5L1327.0 1161.7L1328.0 1162.8L1329.0 1163.7L1330.0 1164.5L1331.0 1165.2L1332.0 1165.8L1333.0 1166.4L1334.0 1167.0L1335.0 1167.6L1336.0 1168.2L1337.0 1168.8L1338.0 1169.3L1339.0 1169.8L1340.0 1170.4L1341.0 1170.8L1342.0 1171.3L1343.0 1171.7L1344.0 1172.2L1345.0 1172.6L1346.0 1172.9L1347.0 1173.3L1348.0 1173.6L1349.0 1173.9L1350.0 1174.2L1351.0 1174.4L1352.0 1174.6L1353.0 1174.8L1354.0 1175.0L1355.0 1175.2L1356.0 1175.3L1357.0 1175.5L1358.0 1175.7L1359.0 1175.8L1360.0 1176.0L1361.0 1176.1L1362.0 1176.3L1363.0 1176.4L1364.0 1176.6L1365.0 1176.7L1366.0 1176.9L1367.0 1177.0L1368.0 1177.1L1369.0 1177.3L1370.0 1177.4L1371.0 1177.5L1372.0 1177.6L1373.0 1177.7L1374.0 1177.9L1375.0 1178.0L1376.0 1178.1L1377.0 1178.2L1378.0 1178.3L1379.0 1178.4L1380.0 1178.4L1381.0 1178.5L1382.0 1178.6L1383.0 1178.7L1384.0 1178.8L1385.0 1178.8L1386.0 1178.9L1387.0 1179.0L1388.0 1179.0L1389.0 1179.1L1390.0 1179.1L1391.0 1179.1L1392.0 1179.2L1393.0 1179.2L1394.0 1179.2L1395.0 1179.3L1396.0 1179.3L1397.0 1179.3L1398.0 1179.3L1399.0 1179.3L1400.0 1179.3L1401.0 1179.3L1402.0 1179.3L1403.0 1179.2L1404.0 1179.2L1405.0 1179.2L1406.0 1179.1L1407.0 1179.1L1408.0 1179.0L1409.0 1178.9L1410.0 1178.9L1411.0 1178.8L1412.0 1178.7L1413.0 1178.6L1414.0 1178.5L1415.0 1178.4L1416.0 1178.3L1417.0 1178.2L1418.0 1178.1L1419.0 1178.0L1420.0 1177.9L1421.0 1177.8L1422.0 1177.7L1423.0 1177.5L1424.0 1177.4L1425.0 1177.3L1426.0 1177.2L1427.0 1177.0L1428.0 1176.9L1429.0 1176.8L1430.0 1176.6L1431.0 1176.5L1432.0 1176.4L1433.0 1176.2L1434.0 1176.1L1435.0 1176.0L1436.0 1175.9L1437.0 1175.7L1438.0 1175.6L1439.0 1175.5L1440.0 1175.3L1441.0 1175.2L1442.0 1175.1L1443.0 1175.0L1444.0 1174.9L1445.0 1174.7L1446.0 1174.6L1447.0 1174.5L1448.0 1174.4L1449.0 1174.3L1450.0 1174.2L1451.0 1174.1L1452.0 1174.0L1453.0 1173.9L1454.0 1173.8L1455.0 1173.6L1456.0 1173.5L1457.0 1173.4L1458.0 1173.3L1459.0 1173.2L1460.0 1173.1L1461.0 1173.0L1462.0 1172.8L1463.0 1172.7L1464.0 1172.6L1465.0 1172.4L1466.0 1172.3L1467.0 1172.2L1468.0 1172.0L1469.0 1171.9L1470.0 1171.7L1471.0 1171.6L1472.0 1171.4L1473.0 1171.3L1474.0 1171.1L1475.0 1170.9L1476.0 1170.8L1477.0 1170.6L1478.0 1170.4L1479.0 1170.2L1480.0 1170.0L1481.0 1169.8L1482.0 1169.5L1483.0 1169.3L1484.0 1169.0L1485.0 1168.7L1486.0 1168.4L1487.0 1168.1L1488.0 1167.8L1489.0 1167.5L1490.0 1167.2L1491.0 1166.8L1492.0 1166.4L1493.0 1166.1L1494.0 1165.7L1495.0 1165.3L1496.0 1164.8L1497.0 1164.4L1498.0 1164.0L1499.0 1163.5L1500.0 1163.1L1501.0 1162.6L1502.0 1162.1L1503.0 1161.6L1504.0 1160.9L1505.0 1160.2L1506.0 1159.4L1507.0 1158.6L1508.0 1157.7L1509.0 1156.7L1510.0 1155.7L1511.0 1154.6L1512.0 1153.5L1513.0 1152.3L1514.0 1151.2L1515.0 1149.9L1516.0 1148.7L1517.0 1147.4L1518.0 1146.1L1519.0 1144.8L1520.0 1143.4L1521.0 1142.1L1522.0 1140.7L1523.0 1139.4L1524.0 1138.1L1525.0 1136.7L1526.0 1135.4L1527.0 1134.1L1528.0 1132.9L1529.0 1131.6L1530.0 1130.4L1531.0 1129.3L1532.0 1128.1L1533.0 1127.1L1534.0 1126.0L1535.0 1125.0L1536.0 1124.1L1537.0 1123.2L1538.0 1122.5L1539.0 1121.7L1540.0 1121.1L1541.0 1120.5L1542.0 1120.0L1543.0 1119.6L1544.0 1119.3L1545.0 1119.1L1546.0 1119.0L1547.0 1119.0L1548.0 1119.2L1549.0 1119.7L1550.0 1120.3L1551.0 1121.1L1552.0 1122.0L1553.0 1123.1L1554.0 1124.4L1555.0 1125.7L1556.0 1127.2L1557.0 1128.8L1558.0 1130.5L1559.0 1132.3L1560.0 1134.1L1561.0 1136.0L1562.0 1137.9L1563.0 1139.8L1564.0 1141.8L1565.0 1143.8L1566.0 1145.7L1567.0 1147.7L1568.0 1149.6L1569.0 1151.4L1570.0 1153.2L1571.0 1155.0L1572.0 1156.6L1573.0 1158.1L1574.0 1159.6L1575.0 1160.9L1576.0 1162.1L1577.0 1163.1L1578.0 1164.0L1579.0 1164.7L1580.0 1165.2L1581.0 1165.5L1582.0 1165.6L1583.0 1165.6L1584.0 1165.6L1585.0 1165.6L1586.0 1165.6L1587.0 1165.6L1588.0 1165.6L1589.0 1165.6L1590.0 1165.6L1591.0 1165.6L1592.0 1165.6L1593.0 1165.6L1594.0 1165.6L1595.0 1165.6L1596.0 1165.6L1597.0 1165.6L1598.0 1165.6L1599.0 1165.6L1600.0 1165.6L1601.0 1165.6L1602.0 1165.6L1603.0 1165.6L1604.0 1165.6L1605.0 1165.6L1606.0 1165.6L1607.0 1165.6L1608.0 1165.6L1609.0 1165.6L1610.0 1165.6L1611.0 1165.6L1612.0 1165.6L1613.0 1165.6L1614.0 1165.6L1615.0 1165.6L1616.0 1165.6L1617.0 1165.6L1618.0 1165.6L1619.0 1165.7L1620.0 1165.8L1621.0 1166.0L1622.0 1166.1L1623.0 1166.3L1624.0 1166.5L1625.0 1166.8L1626.0 1167.1L1627.0 1167.3L1628.0 1167.7L1629.0 1168.0L1630.0 1168.3L1631.0 1168.7L1632.0 1169.0L1633.0 1169.4L1634.0 1169.8L1635.0 1170.2L1636.0 1170.6L1637.0 1171.0L1638.0 1171.4L1639.0 1171.8L1640.0 1172.2L1641.0 1172.6L1642.0 1173.0L1643.0 1173.4L1644.0 1173.7L1645.0 1174.1L1646.0 1174.4L1647.0 1174.8L1648.0 1175.1L1649.0 1175.4L1650.0 1175.7L1651.0 1176.0L1652.0 1176.2L1653.0 1176.5L1654.0 1176.8L1655.0 1177.0L1656.0 1177.3L1657.0 1177.6L1658.0 1177.8L1659.0 1178.1L1660.0 1178.4L1661.0 1178.6L1662.0 1178.9L1663.0 1179.1L1664.0 1179.4L1665.0 1179.7L1666.0 1179.9L1667.0 1180.2L1668.0 1180.4L1669.0 1180.7L1670.0 1180.9L1671.0 1181.1L1672.0 1181.4L1673.0 1181.6L1674.0 1181.8L1675.0 1182.0L1676.0 1182.3L1677.0 1182.5L1678.0 1182.7L1679.0 1182.9L1680.0 1183.1L1681.0 1183.3L1682.0 1183.5L1683.0 1183.6L1684.0 1183.8L1685.0 1184.0L1686.0 1184.1L1687.0 1184.3L1688.0 1184.4L1689.0 1184.6L1690.0 1184.7L1691.0 1184.9L1692.0 1185.0L1693.0 1185.1L1694.0 1185.2L1695.0 1185.4L1696.0 1185.5L1697.0 1185.6L1698.0 1185.7L1699.0 1185.8L1700.0 1186.0L1701.0 1186.1L1702.0 1186.2L1703.0 1186.3L1704.0 1186.4L1705.0 1186.6L1706.0 1186.7L1707.0 1186.8L1708.0 1187.0L1709.0 1187.1L1710.0 1187.2L1711.0 1187.4L1712.0 1187.5"/>
<clipPath id="pc"><rect x="284" y="0" width="1422" height="1214"/></clipPath>
<filter id="ctR" x="-5%" y="-10%" width="110%" height="120%" color-interpolation-filters="sRGB">
<feMorphology in="SourceAlpha" operator="erode" radius="0.2 0.2" result="er"/>
<feGaussianBlur in="er" stdDeviation="1.3 0" result="aC"/>
<feOffset in="aC" dx="-2.6" dy="0" result="aL"/>
<feOffset in="aC" dx="2.6" dy="0" result="aR"/>
<feColorMatrix in="aR" type="matrix" values="0 0 0 1 0  0 0 0 0 0  0 0 0 0 0  0 0 0 0 1" result="cR"/>
<feColorMatrix in="aC" type="matrix" values="0 0 0 0 0  0 0 0 1 0  0 0 0 0 0  0 0 0 0 1" result="cG"/>
<feColorMatrix in="aL" type="matrix" values="0 0 0 0 0  0 0 0 0 0  0 0 0 1 0  0 0 0 0 1" result="cB"/>
<feComposite in="cR" in2="cG" operator="arithmetic" k1="0" k2="1" k3="1" k4="0" result="cRG"/>
<feComposite in="cRG" in2="cB" operator="arithmetic" k1="0" k2="1" k3="1" k4="0" result="cRGB"/>
<feColorMatrix in="cRGB" type="matrix" values="-1 0 0 0 1  0 -1 0 0 1  0 0 -1 0 1  0 0 0 0 1"/>
</filter>
<filter id="ctB" x="-5%" y="-10%" width="110%" height="120%" color-interpolation-filters="sRGB">
<feMorphology in="SourceAlpha" operator="erode" radius="0.6 0.2" result="er"/>
<feGaussianBlur in="er" stdDeviation="1.3 0" result="aC"/>
<feOffset in="aC" dx="-2.6" dy="0" result="aL"/>
<feOffset in="aC" dx="2.6" dy="0" result="aR"/>
<feColorMatrix in="aR" type="matrix" values="0 0 0 1 0  0 0 0 0 0  0 0 0 0 0  0 0 0 0 1" result="cR"/>
<feColorMatrix in="aC" type="matrix" values="0 0 0 0 0  0 0 0 1 0  0 0 0 0 0  0 0 0 0 1" result="cG"/>
<feColorMatrix in="aL" type="matrix" values="0 0 0 0 0  0 0 0 0 0  0 0 0 1 0  0 0 0 0 1" result="cB"/>
<feComposite in="cR" in2="cG" operator="arithmetic" k1="0" k2="1" k3="1" k4="0" result="cRG"/>
<feComposite in="cRG" in2="cB" operator="arithmetic" k1="0" k2="1" k3="1" k4="0" result="cRGB"/>
<feColorMatrix in="cRGB" type="matrix" values="-1 0 0 0 1  0 -1 0 0 1  0 0 -1 0 1  0 0 0 0 1"/>
</filter>
<filter id="ctI" x="-5%" y="-10%" width="110%" height="120%" color-interpolation-filters="sRGB">
<feMorphology in="SourceAlpha" operator="erode" radius="0.2 0.8" result="er"/>
<feGaussianBlur in="er" stdDeviation="1.3 0" result="aC"/>
<feOffset in="aC" dx="-2.6" dy="0" result="aL"/>
<feOffset in="aC" dx="2.6" dy="0" result="aR"/>
<feColorMatrix in="aR" type="matrix" values="0 0 0 1 0  0 0 0 0 0  0 0 0 0 0  0 0 0 0 1" result="cR"/>
<feColorMatrix in="aC" type="matrix" values="0 0 0 0 0  0 0 0 1 0  0 0 0 0 0  0 0 0 0 1" result="cG"/>
<feColorMatrix in="aL" type="matrix" values="0 0 0 0 0  0 0 0 0 0  0 0 0 1 0  0 0 0 0 1" result="cB"/>
<feComposite in="cR" in2="cG" operator="arithmetic" k1="0" k2="1" k3="1" k4="0" result="cRG"/>
<feComposite in="cRG" in2="cB" operator="arithmetic" k1="0" k2="1" k3="1" k4="0" result="cRGB"/>
<feColorMatrix in="cRGB" type="matrix" values="-1 0 0 0 1  0 -1 0 0 1  0 0 -1 0 1  0 0 0 0 1"/>
</filter>
</defs>
<rect width="1746" height="1459" fill="#fff"/>
<g clip-path="url(#pc)">
<use href="#c0" fill="none" stroke="#00b050" stroke-width="25" stroke-opacity="0.3" stroke-linejoin="round" stroke-linecap="butt"/><use href="#c0" fill="none" stroke="#00b050" stroke-width="18.5" stroke-linejoin="round" stroke-linecap="butt"/>
<use href="#c1" fill="none" stroke="#0070c0" stroke-width="25" stroke-opacity="0.3" stroke-linejoin="round" stroke-linecap="butt"/><use href="#c1" fill="none" stroke="#0070c0" stroke-width="18.5" stroke-linejoin="round" stroke-linecap="butt"/>
<use href="#c2" fill="none" stroke="#ff0000" stroke-width="25" stroke-opacity="0.3" stroke-linejoin="round" stroke-linecap="butt"/><use href="#c2" fill="none" stroke="#ff0000" stroke-width="18.5" stroke-linejoin="round" stroke-linecap="butt"/>
<use href="#c3" fill="none" stroke="#000000" stroke-width="25" stroke-opacity="0.3" stroke-linejoin="round" stroke-linecap="butt"/><use href="#c3" fill="none" stroke="#000000" stroke-width="18.5" stroke-linejoin="round" stroke-linecap="butt"/>
</g>
<rect x="284" y="0" width="5" height="1214" fill="#000"/>
<rect x="284" y="0" width="1416" height="4" fill="#000"/>
<rect x="1696" y="0" width="4" height="1214" fill="#000"/>
<rect x="284" y="1210" width="1416" height="4" fill="#000"/>
<rect x="289" y="1098.8" width="13" height="5" fill="#000"/>
<rect x="302" y="1098.8" width="3" height="5" fill="#444"/>
<rect x="289" y="988.5" width="13" height="5" fill="#000"/>
<rect x="302" y="988.5" width="3" height="5" fill="#444"/>
<rect x="289" y="878.2" width="13" height="5" fill="#000"/>
<rect x="302" y="878.2" width="3" height="5" fill="#444"/>
<rect x="289" y="768.0" width="13" height="5" fill="#000"/>
<rect x="302" y="768.0" width="3" height="5" fill="#444"/>
<rect x="289" y="657.8" width="23" height="5" fill="#000"/>
<rect x="312" y="657.8" width="3" height="5" fill="#444"/>
<rect x="289" y="547.5" width="13" height="5" fill="#000"/>
<rect x="302" y="547.5" width="3" height="5" fill="#444"/>
<rect x="289" y="437.2" width="13" height="5" fill="#000"/>
<rect x="302" y="437.2" width="3" height="5" fill="#444"/>
<rect x="289" y="327.0" width="13" height="5" fill="#000"/>
<rect x="302" y="327.0" width="3" height="5" fill="#444"/>
<rect x="289" y="216.8" width="13" height="5" fill="#000"/>
<rect x="302" y="216.8" width="3" height="5" fill="#444"/>
<rect x="289" y="106.5" width="23" height="5" fill="#000"/>
<rect x="312" y="106.5" width="3" height="5" fill="#444"/>
<rect x="372.2" y="1193" width="5" height="17" fill="#000"/>
<rect x="372.2" y="1190" width="5" height="3" fill="#555"/>
<rect x="460.4" y="1193" width="5" height="17" fill="#000"/>
<rect x="460.4" y="1190" width="5" height="3" fill="#555"/>
<rect x="548.6" y="1193" width="5" height="17" fill="#000"/>
<rect x="548.6" y="1190" width="5" height="3" fill="#555"/>
<rect x="636.8" y="1187" width="5" height="23" fill="#000"/>
<rect x="636.8" y="1184" width="5" height="3" fill="#555"/>
<rect x="725.0" y="1193" width="5" height="17" fill="#000"/>
<rect x="725.0" y="1190" width="5" height="3" fill="#555"/>
<rect x="813.2" y="1193" width="5" height="17" fill="#000"/>
<rect x="813.2" y="1190" width="5" height="3" fill="#555"/>
<rect x="901.4" y="1193" width="5" height="17" fill="#000"/>
<rect x="901.4" y="1190" width="5" height="3" fill="#555"/>
<rect x="989.6" y="1187" width="5" height="23" fill="#000"/>
<rect x="989.6" y="1184" width="5" height="3" fill="#555"/>
<rect x="1077.8" y="1193" width="5" height="17" fill="#000"/>
<rect x="1077.8" y="1190" width="5" height="3" fill="#555"/>
<rect x="1166.0" y="1193" width="5" height="17" fill="#000"/>
<rect x="1166.0" y="1190" width="5" height="3" fill="#555"/>
<rect x="1254.2" y="1193" width="5" height="17" fill="#000"/>
<rect x="1254.2" y="1190" width="5" height="3" fill="#555"/>
<rect x="1342.4" y="1187" width="5" height="23" fill="#000"/>
<rect x="1342.4" y="1184" width="5" height="3" fill="#555"/>
<rect x="1430.6" y="1193" width="5" height="17" fill="#000"/>
<rect x="1430.6" y="1190" width="5" height="3" fill="#555"/>
<rect x="1518.8" y="1193" width="5" height="17" fill="#000"/>
<rect x="1518.8" y="1190" width="5" height="3" fill="#555"/>
<rect x="1607.0" y="1193" width="5" height="17" fill="#000"/>
<rect x="1607.0" y="1190" width="5" height="3" fill="#555"/>
<text x="211" y="136" text-anchor="end" class="r">1000</text>
<text x="211" y="687" text-anchor="end" class="r">500</text>
<text x="211" y="1239" text-anchor="end" class="r">0</text>
<text x="286.5" y="1336" text-anchor="middle" class="r">10</text>
<text x="639.3" y="1336" text-anchor="middle" class="r">30</text>
<text x="992.1" y="1336" text-anchor="middle" class="r">50</text>
<text x="1344.9" y="1336" text-anchor="middle" class="r">70</text>
<text x="1697.7" y="1336" text-anchor="middle" class="r">90</text>
<text x="1046" y="1434" text-anchor="middle" class="r">2theta (degree)</text>
<g class="ctg"><text transform="translate(71,577) rotate(-90)" text-anchor="middle" class="r nf" letter-spacing="1.1">Intensity</text></g>
<text x="662" y="75.6" class="b">Pt(111)</text>
<text x="407" y="238" class="b">C(002)</text>
<text x="877" y="258.7" class="b">Pt(200)</text>
<text x="1107" y="375.6" class="b">Pt(220)</text>
<text x="1399" y="238.7" class="b">Pt(311)</text>
<text x="1414" y="360.6" class="b" letter-spacing="1.2">CIC-80</text>
<text x="1364" y="570.4" class="b" letter-spacing="1.2">CIC-50</text>
<text x="1368" y="815.6" class="b" letter-spacing="1.2">CIC-26</text>
<text x="1373" y="1080.4" class="b" letter-spacing="1.2">CIC-15</text>
</svg>
</body></html>
